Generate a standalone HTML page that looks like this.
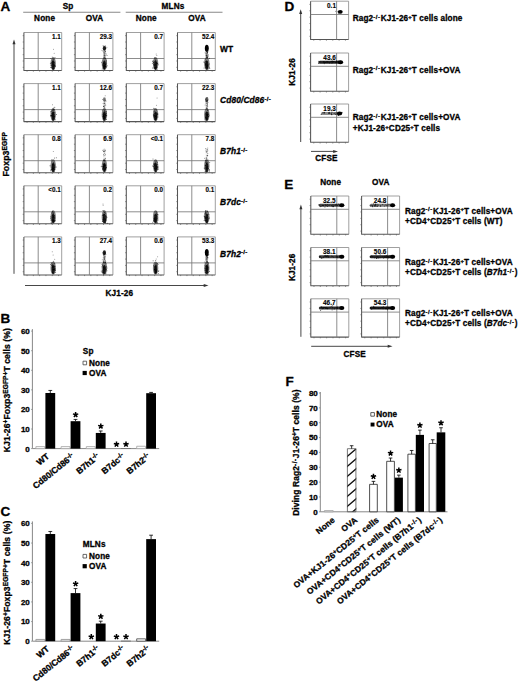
<!DOCTYPE html>
<html><head><meta charset="utf-8"><style>
html,body{margin:0;padding:0;background:#fff;width:520px;height:683px;overflow:hidden;}
svg{display:block;font-family:"Liberation Sans",sans-serif;}
</style></head><body>
<svg width="520" height="683" viewBox="0 0 520 683" font-family="Liberation Sans, sans-serif" font-weight="bold" stroke-linejoin="round">
<rect width="520" height="683" fill="#fff"/>
<line x1="23.2" y1="12.2" x2="120.4" y2="12.2" stroke="#888" stroke-width="1.1"/>
<line x1="125.7" y1="12.2" x2="222.5" y2="12.2" stroke="#888" stroke-width="1.1"/>
<path d="M23.9 35.67h-1.2M23.9 42h-1.2M23.9 48.33h-1.2M23.9 54.67h-1.2M23.9 61h-1.2M23.9 67.33h-1.2M27.05 70.5v1.2M33.35 70.5v1.2M39.65 70.5v1.2M45.95 70.5v1.2M52.25 70.5v1.2M58.55 70.5v1.2" stroke="#666" stroke-width="0.7" fill="none"/>
<path d="M23.9 32.5H61.7V70.5" stroke="#888" stroke-width="0.8" fill="none"/>
<path d="M23.9 32.5V70.5H61.7" stroke="#555" stroke-width="1.05" fill="none"/>
<line x1="38.2" y1="32.5" x2="38.2" y2="70.5" stroke="#777" stroke-width="0.85"/>
<line x1="23.9" y1="58.5" x2="61.7" y2="58.5" stroke="#777" stroke-width="0.85"/>
<ellipse cx="53.19" cy="63.6" rx="2.7" ry="6.6" fill="#000" fill-opacity="0.5"/>
<ellipse cx="53.19" cy="65.1" rx="1.5" ry="4.6" fill="#000" fill-opacity="0.8"/>
<g fill="#000" fill-opacity="0.6"><circle cx="52.84" cy="66.29" r="0.5"/><circle cx="52.88" cy="63.4" r="0.5"/><circle cx="51.89" cy="63.75" r="0.5"/><circle cx="54.75" cy="65.98" r="0.5"/><circle cx="54.65" cy="65.37" r="0.5"/><circle cx="53.75" cy="65.15" r="0.5"/><circle cx="50.86" cy="67.49" r="0.5"/><circle cx="53.9" cy="66.25" r="0.5"/><circle cx="50.83" cy="58.4" r="0.5"/><circle cx="51.95" cy="62.86" r="0.5"/><circle cx="53.62" cy="64.34" r="0.5"/><circle cx="53.92" cy="62.25" r="0.5"/><circle cx="53.63" cy="65.88" r="0.5"/><circle cx="53.97" cy="68.69" r="0.5"/><circle cx="52.33" cy="61.91" r="0.5"/><circle cx="52.71" cy="64.13" r="0.5"/><circle cx="54.08" cy="65.37" r="0.5"/><circle cx="52.57" cy="61.15" r="0.5"/><circle cx="52.47" cy="68.77" r="0.5"/><circle cx="52.06" cy="65.36" r="0.5"/><circle cx="53.79" cy="59.29" r="0.5"/><circle cx="53.26" cy="69.07" r="0.5"/><circle cx="50.37" cy="63.37" r="0.5"/><circle cx="53.05" cy="61.64" r="0.5"/><circle cx="53.89" cy="64.28" r="0.5"/><circle cx="51.14" cy="67.4" r="0.5"/><circle cx="54.13" cy="67.81" r="0.5"/><circle cx="55.21" cy="65.77" r="0.5"/><circle cx="53.36" cy="59.95" r="0.5"/><circle cx="54.06" cy="62.36" r="0.5"/><circle cx="52.56" cy="60.07" r="0.5"/><circle cx="51.84" cy="62.64" r="0.5"/><circle cx="55" cy="57.39" r="0.5"/><circle cx="51.15" cy="65.34" r="0.5"/><circle cx="55.22" cy="66.52" r="0.5"/></g>
<g fill="#000" fill-opacity="0.45"><circle cx="53.52" cy="49.19" r="0.5"/><circle cx="52.19" cy="56.9" r="0.5"/><circle cx="54.19" cy="53.21" r="0.5"/></g>
<path d="M75.1 35.67h-1.2M75.1 42h-1.2M75.1 48.33h-1.2M75.1 54.67h-1.2M75.1 61h-1.2M75.1 67.33h-1.2M78.25 70.5v1.2M84.55 70.5v1.2M90.85 70.5v1.2M97.15 70.5v1.2M103.45 70.5v1.2M109.75 70.5v1.2" stroke="#666" stroke-width="0.7" fill="none"/>
<path d="M75.1 32.5H112.9V70.5" stroke="#888" stroke-width="0.8" fill="none"/>
<path d="M75.1 32.5V70.5H112.9" stroke="#555" stroke-width="1.05" fill="none"/>
<line x1="89.4" y1="32.5" x2="89.4" y2="70.5" stroke="#777" stroke-width="0.85"/>
<line x1="75.1" y1="58.5" x2="112.9" y2="58.5" stroke="#777" stroke-width="0.85"/>
<ellipse cx="104.39" cy="63.6" rx="2.7" ry="6.6" fill="#000" fill-opacity="0.5"/>
<ellipse cx="104.39" cy="65.1" rx="1.5" ry="4.6" fill="#000" fill-opacity="0.8"/>
<g fill="#000" fill-opacity="0.6"><circle cx="104.74" cy="66.02" r="0.5"/><circle cx="106.63" cy="66.67" r="0.5"/><circle cx="105.12" cy="66.42" r="0.5"/><circle cx="102.2" cy="68.99" r="0.5"/><circle cx="105.73" cy="66.35" r="0.5"/><circle cx="101.63" cy="62.28" r="0.5"/><circle cx="105.57" cy="58.16" r="0.5"/><circle cx="104.14" cy="68.07" r="0.5"/><circle cx="105.17" cy="63.97" r="0.5"/><circle cx="104.85" cy="66.77" r="0.5"/><circle cx="104.56" cy="68.51" r="0.5"/><circle cx="103.47" cy="63.05" r="0.5"/><circle cx="105.85" cy="64.59" r="0.5"/><circle cx="103.16" cy="67.81" r="0.5"/><circle cx="106.45" cy="62.94" r="0.5"/><circle cx="102.46" cy="64.03" r="0.5"/><circle cx="104.19" cy="63.46" r="0.5"/><circle cx="106.36" cy="60.91" r="0.5"/><circle cx="106.16" cy="60.06" r="0.5"/><circle cx="103.29" cy="66.71" r="0.5"/><circle cx="105.98" cy="67.51" r="0.5"/><circle cx="104.88" cy="65" r="0.5"/><circle cx="104.61" cy="66.51" r="0.5"/><circle cx="104.15" cy="65.47" r="0.5"/><circle cx="105.2" cy="64.5" r="0.5"/><circle cx="105.46" cy="66.48" r="0.5"/><circle cx="107.21" cy="65.64" r="0.5"/><circle cx="103.8" cy="63.2" r="0.5"/><circle cx="104.38" cy="67.73" r="0.5"/><circle cx="103.92" cy="65.85" r="0.5"/><circle cx="106.97" cy="55.52" r="0.5"/><circle cx="102.82" cy="65.35" r="0.5"/><circle cx="104.95" cy="65.34" r="0.5"/><circle cx="103.79" cy="66.79" r="0.5"/><circle cx="104.79" cy="62.67" r="0.5"/></g>
<g fill="#000" fill-opacity="0.45"><circle cx="106.58" cy="54.1" r="0.5"/><circle cx="103.9" cy="52.05" r="0.5"/><circle cx="104.19" cy="52.22" r="0.5"/><circle cx="101.94" cy="50.31" r="0.5"/><circle cx="105.3" cy="47.24" r="0.5"/><circle cx="104.33" cy="56.79" r="0.5"/><circle cx="102.86" cy="50.91" r="0.5"/><circle cx="104.09" cy="55.3" r="0.5"/><circle cx="105.37" cy="45.99" r="0.5"/><circle cx="105.01" cy="45.79" r="0.5"/><circle cx="104.55" cy="57.88" r="0.5"/><circle cx="104.26" cy="53.36" r="0.5"/><circle cx="105.11" cy="53.14" r="0.5"/><circle cx="105.34" cy="51.18" r="0.5"/><circle cx="106.87" cy="47.34" r="0.5"/><circle cx="105.22" cy="51.3" r="0.5"/><circle cx="104.51" cy="55.67" r="0.5"/><circle cx="104.59" cy="55.37" r="0.5"/><circle cx="103.02" cy="45.71" r="0.5"/><circle cx="104.95" cy="48.17" r="0.5"/><circle cx="103.47" cy="45.88" r="0.5"/><circle cx="105.53" cy="55.86" r="0.5"/><circle cx="105.72" cy="48.28" r="0.5"/><circle cx="104.4" cy="47.37" r="0.5"/><circle cx="105.28" cy="51.7" r="0.5"/><circle cx="104.31" cy="49.79" r="0.5"/><circle cx="104.75" cy="54.34" r="0.5"/><circle cx="105.74" cy="47.91" r="0.5"/></g>
<ellipse cx="104.39" cy="48.3" rx="1.62" ry="2.41" fill="#000" fill-opacity="0.85"/>
<rect x="103.19" y="48.5" width="2.4" height="10" fill="#000" fill-opacity="0.26"/>
<path d="M126.3 35.67h-1.2M126.3 42h-1.2M126.3 48.33h-1.2M126.3 54.67h-1.2M126.3 61h-1.2M126.3 67.33h-1.2M129.45 70.5v1.2M135.75 70.5v1.2M142.05 70.5v1.2M148.35 70.5v1.2M154.65 70.5v1.2M160.95 70.5v1.2" stroke="#666" stroke-width="0.7" fill="none"/>
<path d="M126.3 32.5H164.1V70.5" stroke="#888" stroke-width="0.8" fill="none"/>
<path d="M126.3 32.5V70.5H164.1" stroke="#555" stroke-width="1.05" fill="none"/>
<line x1="140.6" y1="32.5" x2="140.6" y2="70.5" stroke="#777" stroke-width="0.85"/>
<line x1="126.3" y1="58.5" x2="164.1" y2="58.5" stroke="#777" stroke-width="0.85"/>
<ellipse cx="155.59" cy="63.6" rx="2.7" ry="6.6" fill="#000" fill-opacity="0.5"/>
<ellipse cx="155.59" cy="65.1" rx="1.5" ry="4.6" fill="#000" fill-opacity="0.8"/>
<g fill="#000" fill-opacity="0.6"><circle cx="157.19" cy="69.71" r="0.5"/><circle cx="157.63" cy="63.87" r="0.5"/><circle cx="154.55" cy="68.07" r="0.5"/><circle cx="155.76" cy="64.93" r="0.5"/><circle cx="157.59" cy="63.58" r="0.5"/><circle cx="152.38" cy="63.14" r="0.5"/><circle cx="153" cy="67.37" r="0.5"/><circle cx="156.04" cy="62.36" r="0.5"/><circle cx="155.58" cy="67.41" r="0.5"/><circle cx="155.71" cy="69.14" r="0.5"/><circle cx="155.51" cy="68.14" r="0.5"/><circle cx="154.65" cy="67.58" r="0.5"/><circle cx="152.97" cy="60.71" r="0.5"/><circle cx="152.85" cy="68.24" r="0.5"/><circle cx="153.87" cy="64.46" r="0.5"/><circle cx="155.33" cy="64.4" r="0.5"/><circle cx="154.77" cy="65.32" r="0.5"/><circle cx="158.1" cy="64.65" r="0.5"/><circle cx="156.34" cy="68" r="0.5"/><circle cx="155.32" cy="60.09" r="0.5"/><circle cx="154.82" cy="68.26" r="0.5"/><circle cx="153.29" cy="62.41" r="0.5"/><circle cx="157.01" cy="67.27" r="0.5"/><circle cx="155.61" cy="67.32" r="0.5"/><circle cx="155.83" cy="60.37" r="0.5"/><circle cx="153.41" cy="62.26" r="0.5"/><circle cx="156.89" cy="62.52" r="0.5"/><circle cx="154.33" cy="61.8" r="0.5"/><circle cx="153.45" cy="64.09" r="0.5"/><circle cx="153.94" cy="65.77" r="0.5"/><circle cx="154.7" cy="57.7" r="0.5"/><circle cx="156.61" cy="63.54" r="0.5"/><circle cx="152.47" cy="61.44" r="0.5"/><circle cx="156" cy="62.89" r="0.5"/><circle cx="156.69" cy="67.12" r="0.5"/></g>
<g fill="#000" fill-opacity="0.45"><circle cx="156.19" cy="53.97" r="0.5"/><circle cx="156.8" cy="55.47" r="0.5"/></g>
<path d="M177.5 35.67h-1.2M177.5 42h-1.2M177.5 48.33h-1.2M177.5 54.67h-1.2M177.5 61h-1.2M177.5 67.33h-1.2M180.65 70.5v1.2M186.95 70.5v1.2M193.25 70.5v1.2M199.55 70.5v1.2M205.85 70.5v1.2M212.15 70.5v1.2" stroke="#666" stroke-width="0.7" fill="none"/>
<path d="M177.5 32.5H215.3V70.5" stroke="#888" stroke-width="0.8" fill="none"/>
<path d="M177.5 32.5V70.5H215.3" stroke="#555" stroke-width="1.05" fill="none"/>
<line x1="191.8" y1="32.5" x2="191.8" y2="70.5" stroke="#777" stroke-width="0.85"/>
<line x1="177.5" y1="58.5" x2="215.3" y2="58.5" stroke="#777" stroke-width="0.85"/>
<ellipse cx="206.8" cy="63.6" rx="2.7" ry="6.6" fill="#000" fill-opacity="0.5"/>
<ellipse cx="206.8" cy="65.1" rx="1.5" ry="4.6" fill="#000" fill-opacity="0.8"/>
<g fill="#000" fill-opacity="0.6"><circle cx="207.43" cy="57.21" r="0.5"/><circle cx="208.05" cy="69.08" r="0.5"/><circle cx="206.38" cy="62.86" r="0.5"/><circle cx="209.51" cy="58.35" r="0.5"/><circle cx="205.5" cy="66.91" r="0.5"/><circle cx="209.44" cy="64.08" r="0.5"/><circle cx="207.58" cy="67.66" r="0.5"/><circle cx="205.53" cy="64.19" r="0.5"/><circle cx="207.2" cy="67.39" r="0.5"/><circle cx="206.75" cy="63.82" r="0.5"/><circle cx="205.37" cy="63.24" r="0.5"/><circle cx="208.04" cy="64.86" r="0.5"/><circle cx="205.6" cy="61.55" r="0.5"/><circle cx="207.67" cy="66.18" r="0.5"/><circle cx="209.15" cy="66" r="0.5"/><circle cx="206.7" cy="66.33" r="0.5"/><circle cx="204.07" cy="68.12" r="0.5"/><circle cx="207.25" cy="62.04" r="0.5"/><circle cx="204.83" cy="62.17" r="0.5"/><circle cx="207.2" cy="65.14" r="0.5"/><circle cx="206.24" cy="61.09" r="0.5"/><circle cx="209.76" cy="68.13" r="0.5"/><circle cx="205.12" cy="59.79" r="0.5"/><circle cx="209.18" cy="67.96" r="0.5"/><circle cx="209.34" cy="67.34" r="0.5"/><circle cx="205.57" cy="65.41" r="0.5"/><circle cx="203.77" cy="61.88" r="0.5"/><circle cx="206.71" cy="66.33" r="0.5"/><circle cx="205.78" cy="64.07" r="0.5"/><circle cx="207.44" cy="65.82" r="0.5"/><circle cx="207.69" cy="65.23" r="0.5"/><circle cx="206.34" cy="67.26" r="0.5"/><circle cx="206.86" cy="61.61" r="0.5"/><circle cx="205.92" cy="64.5" r="0.5"/><circle cx="206.64" cy="65.05" r="0.5"/></g>
<g fill="#000" fill-opacity="0.45"><circle cx="206.79" cy="53.29" r="0.5"/><circle cx="206.67" cy="46.84" r="0.5"/><circle cx="207.17" cy="57.24" r="0.5"/><circle cx="207.19" cy="51.65" r="0.5"/><circle cx="207.2" cy="48.15" r="0.5"/><circle cx="205.09" cy="52.77" r="0.5"/><circle cx="205.96" cy="55.83" r="0.5"/><circle cx="206.45" cy="46.34" r="0.5"/><circle cx="206.11" cy="54.84" r="0.5"/><circle cx="207.24" cy="53.3" r="0.5"/><circle cx="208.13" cy="55.68" r="0.5"/><circle cx="206.78" cy="55.19" r="0.5"/><circle cx="208.28" cy="56.87" r="0.5"/><circle cx="207.72" cy="47.63" r="0.5"/><circle cx="206.66" cy="55.78" r="0.5"/><circle cx="206.53" cy="57.31" r="0.5"/><circle cx="207.33" cy="56.59" r="0.5"/><circle cx="207.91" cy="51.53" r="0.5"/><circle cx="206.49" cy="56.43" r="0.5"/><circle cx="207.68" cy="52.53" r="0.5"/><circle cx="205.74" cy="53.34" r="0.5"/><circle cx="207.12" cy="57.58" r="0.5"/><circle cx="207.5" cy="52.61" r="0.5"/><circle cx="207.56" cy="54.93" r="0.5"/><circle cx="206.98" cy="52.75" r="0.5"/><circle cx="206.58" cy="55.59" r="0.5"/><circle cx="205.85" cy="49.67" r="0.5"/><circle cx="206.8" cy="45.91" r="0.5"/><circle cx="206.18" cy="55.06" r="0.5"/><circle cx="207.3" cy="52.25" r="0.5"/><circle cx="206.59" cy="46.12" r="0.5"/><circle cx="208.44" cy="54.82" r="0.5"/></g>
<ellipse cx="206.8" cy="48.3" rx="1.95" ry="3.58" fill="#000" fill-opacity="1"/>
<rect x="205.6" y="48.5" width="2.4" height="10" fill="#000" fill-opacity="0.3"/>
<path d="M23.9 86.77h-1.2M23.9 93.1h-1.2M23.9 99.43h-1.2M23.9 105.77h-1.2M23.9 112.1h-1.2M23.9 118.43h-1.2M27.05 121.6v1.2M33.35 121.6v1.2M39.65 121.6v1.2M45.95 121.6v1.2M52.25 121.6v1.2M58.55 121.6v1.2" stroke="#666" stroke-width="0.7" fill="none"/>
<path d="M23.9 83.6H61.7V121.6" stroke="#888" stroke-width="0.8" fill="none"/>
<path d="M23.9 83.6V121.6H61.7" stroke="#555" stroke-width="1.05" fill="none"/>
<line x1="38.2" y1="83.6" x2="38.2" y2="121.6" stroke="#777" stroke-width="0.85"/>
<line x1="23.9" y1="109.6" x2="61.7" y2="109.6" stroke="#777" stroke-width="0.85"/>
<ellipse cx="53.19" cy="114.7" rx="2.7" ry="6.6" fill="#000" fill-opacity="0.5"/>
<ellipse cx="53.19" cy="116.2" rx="1.5" ry="4.6" fill="#000" fill-opacity="0.8"/>
<g fill="#000" fill-opacity="0.6"><circle cx="54.73" cy="112.51" r="0.5"/><circle cx="52.94" cy="109.23" r="0.5"/><circle cx="54.29" cy="118.87" r="0.5"/><circle cx="50.54" cy="115.42" r="0.5"/><circle cx="54.08" cy="109.43" r="0.5"/><circle cx="50.64" cy="111.87" r="0.5"/><circle cx="52.31" cy="110.69" r="0.5"/><circle cx="53.24" cy="116.47" r="0.5"/><circle cx="54.08" cy="118.06" r="0.5"/><circle cx="55.3" cy="119.68" r="0.5"/><circle cx="51.36" cy="113.83" r="0.5"/><circle cx="51.71" cy="111.83" r="0.5"/><circle cx="53.08" cy="115.62" r="0.5"/><circle cx="53.88" cy="110.05" r="0.5"/><circle cx="51.46" cy="115.52" r="0.5"/><circle cx="52.92" cy="114.51" r="0.5"/><circle cx="53.11" cy="112.94" r="0.5"/><circle cx="54.18" cy="116.84" r="0.5"/><circle cx="53.07" cy="113.25" r="0.5"/><circle cx="51.82" cy="115.73" r="0.5"/><circle cx="51.09" cy="116.3" r="0.5"/><circle cx="53.4" cy="110.78" r="0.5"/><circle cx="52.84" cy="114.5" r="0.5"/><circle cx="53.84" cy="117.74" r="0.5"/><circle cx="53.14" cy="112.62" r="0.5"/><circle cx="52.99" cy="115.37" r="0.5"/><circle cx="54.22" cy="116.63" r="0.5"/><circle cx="52.18" cy="110.86" r="0.5"/><circle cx="52.67" cy="113.01" r="0.5"/><circle cx="51.64" cy="115.19" r="0.5"/><circle cx="52.51" cy="115.97" r="0.5"/><circle cx="53.93" cy="114.15" r="0.5"/><circle cx="56.45" cy="114.47" r="0.5"/><circle cx="54.74" cy="116.03" r="0.5"/><circle cx="54.76" cy="107.28" r="0.5"/></g>
<g fill="#000" fill-opacity="0.45"><circle cx="52.52" cy="104.71" r="0.5"/><circle cx="53.49" cy="109.36" r="0.5"/><circle cx="53.88" cy="107.86" r="0.5"/></g>
<path d="M75.1 86.77h-1.2M75.1 93.1h-1.2M75.1 99.43h-1.2M75.1 105.77h-1.2M75.1 112.1h-1.2M75.1 118.43h-1.2M78.25 121.6v1.2M84.55 121.6v1.2M90.85 121.6v1.2M97.15 121.6v1.2M103.45 121.6v1.2M109.75 121.6v1.2" stroke="#666" stroke-width="0.7" fill="none"/>
<path d="M75.1 83.6H112.9V121.6" stroke="#888" stroke-width="0.8" fill="none"/>
<path d="M75.1 83.6V121.6H112.9" stroke="#555" stroke-width="1.05" fill="none"/>
<line x1="89.4" y1="83.6" x2="89.4" y2="121.6" stroke="#777" stroke-width="0.85"/>
<line x1="75.1" y1="109.6" x2="112.9" y2="109.6" stroke="#777" stroke-width="0.85"/>
<ellipse cx="104.39" cy="114.7" rx="2.7" ry="6.6" fill="#000" fill-opacity="0.5"/>
<ellipse cx="104.39" cy="116.2" rx="1.5" ry="4.6" fill="#000" fill-opacity="0.8"/>
<g fill="#000" fill-opacity="0.6"><circle cx="105.11" cy="115.05" r="0.5"/><circle cx="105.11" cy="111.83" r="0.5"/><circle cx="106.05" cy="112.04" r="0.5"/><circle cx="104.08" cy="115.67" r="0.5"/><circle cx="106.02" cy="115.69" r="0.5"/><circle cx="103.26" cy="116.5" r="0.5"/><circle cx="105.21" cy="118.09" r="0.5"/><circle cx="106.73" cy="115.66" r="0.5"/><circle cx="104.77" cy="114.1" r="0.5"/><circle cx="106.37" cy="113.13" r="0.5"/><circle cx="105.34" cy="113.92" r="0.5"/><circle cx="103.42" cy="118.12" r="0.5"/><circle cx="106.26" cy="115.56" r="0.5"/><circle cx="103.45" cy="118.44" r="0.5"/><circle cx="104.33" cy="116.69" r="0.5"/><circle cx="106.53" cy="119.56" r="0.5"/><circle cx="104.4" cy="118.35" r="0.5"/><circle cx="103.49" cy="115.44" r="0.5"/><circle cx="106.31" cy="111.35" r="0.5"/><circle cx="102.29" cy="109.93" r="0.5"/><circle cx="106.04" cy="113.99" r="0.5"/><circle cx="104.31" cy="114.51" r="0.5"/><circle cx="104.23" cy="111.79" r="0.5"/><circle cx="104.43" cy="110.57" r="0.5"/><circle cx="104.29" cy="116.68" r="0.5"/><circle cx="105.05" cy="114.79" r="0.5"/><circle cx="103.13" cy="116.16" r="0.5"/><circle cx="103.72" cy="121.08" r="0.5"/><circle cx="105.47" cy="115.2" r="0.5"/><circle cx="103.74" cy="113.14" r="0.5"/><circle cx="103.08" cy="114.36" r="0.5"/><circle cx="104.81" cy="117.4" r="0.5"/><circle cx="103.41" cy="115.65" r="0.5"/><circle cx="103.66" cy="116.19" r="0.5"/><circle cx="104.61" cy="117.03" r="0.5"/></g>
<g fill="#000" fill-opacity="0.45"><circle cx="104.18" cy="105.25" r="0.5"/><circle cx="104.44" cy="107.07" r="0.5"/><circle cx="102.69" cy="99.62" r="0.5"/><circle cx="104.39" cy="98.96" r="0.5"/><circle cx="103.45" cy="106.42" r="0.5"/><circle cx="103.81" cy="106.46" r="0.5"/><circle cx="105.07" cy="104.98" r="0.5"/><circle cx="104.85" cy="103.13" r="0.5"/><circle cx="103.13" cy="103.46" r="0.5"/><circle cx="104.8" cy="101.22" r="0.5"/><circle cx="104.31" cy="106.97" r="0.5"/><circle cx="103.6" cy="106.48" r="0.5"/><circle cx="106.07" cy="101.1" r="0.5"/><circle cx="104.53" cy="102.92" r="0.5"/><circle cx="105.78" cy="105.02" r="0.5"/><circle cx="105.2" cy="100.49" r="0.5"/><circle cx="104.38" cy="103.56" r="0.5"/><circle cx="105.2" cy="95.73" r="0.5"/></g>
<ellipse cx="104.39" cy="99.4" rx="1.55" ry="2.14" fill="#000" fill-opacity="0.45"/>
<rect x="103.19" y="99.6" width="2.4" height="10" fill="#000" fill-opacity="0.14"/>
<path d="M126.3 86.77h-1.2M126.3 93.1h-1.2M126.3 99.43h-1.2M126.3 105.77h-1.2M126.3 112.1h-1.2M126.3 118.43h-1.2M129.45 121.6v1.2M135.75 121.6v1.2M142.05 121.6v1.2M148.35 121.6v1.2M154.65 121.6v1.2M160.95 121.6v1.2" stroke="#666" stroke-width="0.7" fill="none"/>
<path d="M126.3 83.6H164.1V121.6" stroke="#888" stroke-width="0.8" fill="none"/>
<path d="M126.3 83.6V121.6H164.1" stroke="#555" stroke-width="1.05" fill="none"/>
<line x1="140.6" y1="83.6" x2="140.6" y2="121.6" stroke="#777" stroke-width="0.85"/>
<line x1="126.3" y1="109.6" x2="164.1" y2="109.6" stroke="#777" stroke-width="0.85"/>
<ellipse cx="155.59" cy="114.7" rx="2.7" ry="6.6" fill="#000" fill-opacity="0.5"/>
<ellipse cx="155.59" cy="116.2" rx="1.5" ry="4.6" fill="#000" fill-opacity="0.8"/>
<g fill="#000" fill-opacity="0.6"><circle cx="156.64" cy="115.14" r="0.5"/><circle cx="156.22" cy="116.88" r="0.5"/><circle cx="153.5" cy="114.86" r="0.5"/><circle cx="157.68" cy="113.59" r="0.5"/><circle cx="154.16" cy="110.84" r="0.5"/><circle cx="153.89" cy="116.77" r="0.5"/><circle cx="157.96" cy="117.1" r="0.5"/><circle cx="154.87" cy="113.24" r="0.5"/><circle cx="156.33" cy="117.52" r="0.5"/><circle cx="154.17" cy="111.51" r="0.5"/><circle cx="156" cy="116.47" r="0.5"/><circle cx="153.77" cy="114.89" r="0.5"/><circle cx="154.84" cy="117.21" r="0.5"/><circle cx="155.43" cy="115.3" r="0.5"/><circle cx="155.1" cy="119.29" r="0.5"/><circle cx="157.54" cy="114.32" r="0.5"/><circle cx="156.78" cy="112.95" r="0.5"/><circle cx="155.7" cy="118.22" r="0.5"/><circle cx="157.71" cy="114.26" r="0.5"/><circle cx="155.49" cy="116.29" r="0.5"/><circle cx="153.5" cy="115.66" r="0.5"/><circle cx="154.65" cy="116.9" r="0.5"/><circle cx="154.01" cy="108.68" r="0.5"/><circle cx="155.65" cy="116.51" r="0.5"/><circle cx="154.83" cy="118.71" r="0.5"/><circle cx="155.21" cy="113.48" r="0.5"/><circle cx="156.26" cy="110.11" r="0.5"/><circle cx="154.65" cy="115.53" r="0.5"/><circle cx="156.78" cy="115.03" r="0.5"/><circle cx="156.03" cy="113.31" r="0.5"/><circle cx="154.69" cy="115.66" r="0.5"/><circle cx="155.84" cy="119.19" r="0.5"/><circle cx="153.86" cy="108.25" r="0.5"/><circle cx="156.44" cy="118.38" r="0.5"/><circle cx="155.88" cy="116.49" r="0.5"/></g>
<g fill="#000" fill-opacity="0.45"><circle cx="156.43" cy="105.26" r="0.5"/><circle cx="157.09" cy="98.03" r="0.5"/></g>
<path d="M177.5 86.77h-1.2M177.5 93.1h-1.2M177.5 99.43h-1.2M177.5 105.77h-1.2M177.5 112.1h-1.2M177.5 118.43h-1.2M180.65 121.6v1.2M186.95 121.6v1.2M193.25 121.6v1.2M199.55 121.6v1.2M205.85 121.6v1.2M212.15 121.6v1.2" stroke="#666" stroke-width="0.7" fill="none"/>
<path d="M177.5 83.6H215.3V121.6" stroke="#888" stroke-width="0.8" fill="none"/>
<path d="M177.5 83.6V121.6H215.3" stroke="#555" stroke-width="1.05" fill="none"/>
<line x1="191.8" y1="83.6" x2="191.8" y2="121.6" stroke="#777" stroke-width="0.85"/>
<line x1="177.5" y1="109.6" x2="215.3" y2="109.6" stroke="#777" stroke-width="0.85"/>
<ellipse cx="206.8" cy="114.7" rx="2.7" ry="6.6" fill="#000" fill-opacity="0.5"/>
<ellipse cx="206.8" cy="116.2" rx="1.5" ry="4.6" fill="#000" fill-opacity="0.8"/>
<g fill="#000" fill-opacity="0.6"><circle cx="207.93" cy="114.3" r="0.5"/><circle cx="206.79" cy="114.71" r="0.5"/><circle cx="206.1" cy="112.67" r="0.5"/><circle cx="205.91" cy="117.84" r="0.5"/><circle cx="206.85" cy="115.83" r="0.5"/><circle cx="206.55" cy="118.8" r="0.5"/><circle cx="207.49" cy="115.1" r="0.5"/><circle cx="207.73" cy="115.07" r="0.5"/><circle cx="205.18" cy="120.69" r="0.5"/><circle cx="207.45" cy="112.25" r="0.5"/><circle cx="208.31" cy="116.81" r="0.5"/><circle cx="207.26" cy="118.72" r="0.5"/><circle cx="207.07" cy="115.08" r="0.5"/><circle cx="204.63" cy="119" r="0.5"/><circle cx="206.84" cy="114.6" r="0.5"/><circle cx="207.29" cy="115.87" r="0.5"/><circle cx="207.74" cy="114.3" r="0.5"/><circle cx="206.74" cy="108.11" r="0.5"/><circle cx="206.2" cy="117.97" r="0.5"/><circle cx="208.67" cy="114.33" r="0.5"/><circle cx="206.34" cy="118.17" r="0.5"/><circle cx="209.14" cy="115.74" r="0.5"/><circle cx="208.51" cy="113.11" r="0.5"/><circle cx="207.09" cy="115.33" r="0.5"/><circle cx="206.96" cy="119.55" r="0.5"/><circle cx="205.99" cy="117.34" r="0.5"/><circle cx="205.32" cy="117.34" r="0.5"/><circle cx="207.6" cy="114.63" r="0.5"/><circle cx="207.54" cy="110.18" r="0.5"/><circle cx="207.86" cy="110.19" r="0.5"/><circle cx="205.82" cy="113.65" r="0.5"/><circle cx="206.23" cy="118.61" r="0.5"/><circle cx="206.91" cy="114.21" r="0.5"/><circle cx="206.8" cy="116.88" r="0.5"/><circle cx="208.53" cy="116.54" r="0.5"/></g>
<g fill="#000" fill-opacity="0.45"><circle cx="206.76" cy="105.48" r="0.5"/><circle cx="207.66" cy="106.61" r="0.5"/><circle cx="206.55" cy="98.86" r="0.5"/><circle cx="206.89" cy="108.25" r="0.5"/><circle cx="205.81" cy="98.98" r="0.5"/><circle cx="206.56" cy="101.64" r="0.5"/><circle cx="207.2" cy="100.44" r="0.5"/><circle cx="206" cy="101.83" r="0.5"/><circle cx="206.75" cy="100.61" r="0.5"/><circle cx="206.81" cy="106.98" r="0.5"/><circle cx="206.09" cy="101.71" r="0.5"/><circle cx="206.14" cy="103.45" r="0.5"/><circle cx="207.27" cy="97.49" r="0.5"/><circle cx="207.21" cy="103.48" r="0.5"/><circle cx="205.15" cy="104.91" r="0.5"/><circle cx="207.52" cy="104.54" r="0.5"/><circle cx="207.22" cy="105.59" r="0.5"/><circle cx="207.97" cy="102.59" r="0.5"/><circle cx="207.58" cy="101.76" r="0.5"/><circle cx="207.45" cy="99.94" r="0.5"/><circle cx="207.2" cy="102.89" r="0.5"/><circle cx="205.76" cy="100.04" r="0.5"/></g>
<ellipse cx="206.8" cy="99.4" rx="1.65" ry="2.5" fill="#000" fill-opacity="0.6"/>
<rect x="205.6" y="99.6" width="2.4" height="10" fill="#000" fill-opacity="0.18"/>
<path d="M23.9 137.87h-1.2M23.9 144.2h-1.2M23.9 150.53h-1.2M23.9 156.87h-1.2M23.9 163.2h-1.2M23.9 169.53h-1.2M27.05 172.7v1.2M33.35 172.7v1.2M39.65 172.7v1.2M45.95 172.7v1.2M52.25 172.7v1.2M58.55 172.7v1.2" stroke="#666" stroke-width="0.7" fill="none"/>
<path d="M23.9 134.7H61.7V172.7" stroke="#888" stroke-width="0.8" fill="none"/>
<path d="M23.9 134.7V172.7H61.7" stroke="#555" stroke-width="1.05" fill="none"/>
<line x1="38.2" y1="134.7" x2="38.2" y2="172.7" stroke="#777" stroke-width="0.85"/>
<line x1="23.9" y1="160.7" x2="61.7" y2="160.7" stroke="#777" stroke-width="0.85"/>
<ellipse cx="53.19" cy="165.8" rx="2.7" ry="6.6" fill="#000" fill-opacity="0.5"/>
<ellipse cx="53.19" cy="167.3" rx="1.5" ry="4.6" fill="#000" fill-opacity="0.8"/>
<g fill="#000" fill-opacity="0.6"><circle cx="53.47" cy="169.99" r="0.5"/><circle cx="53.79" cy="168.53" r="0.5"/><circle cx="53.14" cy="171.43" r="0.5"/><circle cx="52.65" cy="164.78" r="0.5"/><circle cx="54.44" cy="166.92" r="0.5"/><circle cx="52.81" cy="164.68" r="0.5"/><circle cx="52.84" cy="168.88" r="0.5"/><circle cx="53.69" cy="162.47" r="0.5"/><circle cx="53.79" cy="167.33" r="0.5"/><circle cx="51.79" cy="169.4" r="0.5"/><circle cx="52.8" cy="165.53" r="0.5"/><circle cx="54.31" cy="171.32" r="0.5"/><circle cx="52.23" cy="168.23" r="0.5"/><circle cx="52.5" cy="170.88" r="0.5"/><circle cx="52.29" cy="169.54" r="0.5"/><circle cx="56.3" cy="157.81" r="0.5"/><circle cx="52.59" cy="168.45" r="0.5"/><circle cx="53.06" cy="164.36" r="0.5"/><circle cx="56.21" cy="166.98" r="0.5"/><circle cx="50.89" cy="169.69" r="0.5"/><circle cx="50.78" cy="170.73" r="0.5"/><circle cx="52.39" cy="167.21" r="0.5"/><circle cx="54.96" cy="167.11" r="0.5"/><circle cx="51.25" cy="160.76" r="0.5"/><circle cx="54.85" cy="169.29" r="0.5"/><circle cx="52.05" cy="169.71" r="0.5"/><circle cx="53.89" cy="168.97" r="0.5"/><circle cx="50.03" cy="165.64" r="0.5"/><circle cx="54.46" cy="169.27" r="0.5"/><circle cx="54.43" cy="158.1" r="0.5"/><circle cx="53.43" cy="168.42" r="0.5"/><circle cx="52.73" cy="166.83" r="0.5"/><circle cx="54.44" cy="165.15" r="0.5"/><circle cx="54.8" cy="163.94" r="0.5"/><circle cx="53.57" cy="164.85" r="0.5"/></g>
<g fill="#000" fill-opacity="0.45"><circle cx="53.34" cy="151.59" r="0.5"/><circle cx="51.76" cy="159.62" r="0.5"/></g>
<path d="M75.1 137.87h-1.2M75.1 144.2h-1.2M75.1 150.53h-1.2M75.1 156.87h-1.2M75.1 163.2h-1.2M75.1 169.53h-1.2M78.25 172.7v1.2M84.55 172.7v1.2M90.85 172.7v1.2M97.15 172.7v1.2M103.45 172.7v1.2M109.75 172.7v1.2" stroke="#666" stroke-width="0.7" fill="none"/>
<path d="M75.1 134.7H112.9V172.7" stroke="#888" stroke-width="0.8" fill="none"/>
<path d="M75.1 134.7V172.7H112.9" stroke="#555" stroke-width="1.05" fill="none"/>
<line x1="89.4" y1="134.7" x2="89.4" y2="172.7" stroke="#777" stroke-width="0.85"/>
<line x1="75.1" y1="160.7" x2="112.9" y2="160.7" stroke="#777" stroke-width="0.85"/>
<ellipse cx="104.39" cy="165.8" rx="2.7" ry="6.6" fill="#000" fill-opacity="0.5"/>
<ellipse cx="104.39" cy="167.3" rx="1.5" ry="4.6" fill="#000" fill-opacity="0.8"/>
<g fill="#000" fill-opacity="0.6"><circle cx="104.82" cy="164.74" r="0.5"/><circle cx="104.68" cy="170.17" r="0.5"/><circle cx="103.03" cy="166.31" r="0.5"/><circle cx="105.15" cy="168.54" r="0.5"/><circle cx="103.93" cy="159.33" r="0.5"/><circle cx="106.14" cy="167.85" r="0.5"/><circle cx="104.41" cy="165.73" r="0.5"/><circle cx="104.76" cy="165.21" r="0.5"/><circle cx="102.96" cy="164.11" r="0.5"/><circle cx="103.56" cy="164.56" r="0.5"/><circle cx="102.77" cy="168.93" r="0.5"/><circle cx="102.56" cy="169.01" r="0.5"/><circle cx="102.97" cy="167.93" r="0.5"/><circle cx="106.32" cy="167.41" r="0.5"/><circle cx="103.37" cy="166.87" r="0.5"/><circle cx="104.6" cy="160.63" r="0.5"/><circle cx="103.54" cy="167.27" r="0.5"/><circle cx="103.74" cy="166.98" r="0.5"/><circle cx="105.42" cy="169.38" r="0.5"/><circle cx="105.66" cy="168.76" r="0.5"/><circle cx="103.99" cy="166.64" r="0.5"/><circle cx="104.02" cy="165.6" r="0.5"/><circle cx="104.14" cy="160.66" r="0.5"/><circle cx="103.93" cy="166.62" r="0.5"/><circle cx="103.03" cy="166.62" r="0.5"/><circle cx="105.12" cy="166.12" r="0.5"/><circle cx="104.11" cy="160.31" r="0.5"/><circle cx="105.12" cy="165.64" r="0.5"/><circle cx="105.17" cy="158.85" r="0.5"/><circle cx="105.59" cy="168" r="0.5"/><circle cx="104.43" cy="164.64" r="0.5"/><circle cx="105.29" cy="165" r="0.5"/><circle cx="104.71" cy="164.91" r="0.5"/><circle cx="101.25" cy="166.59" r="0.5"/><circle cx="104.68" cy="169.34" r="0.5"/></g>
<g fill="#000" fill-opacity="0.45"><circle cx="103.61" cy="154.55" r="0.5"/><circle cx="104.95" cy="155.35" r="0.5"/><circle cx="105.23" cy="158.36" r="0.5"/><circle cx="103.84" cy="151.49" r="0.5"/><circle cx="105.19" cy="150.6" r="0.5"/><circle cx="102.76" cy="150.21" r="0.5"/><circle cx="103.78" cy="151.42" r="0.5"/><circle cx="104.6" cy="151.33" r="0.5"/><circle cx="105.57" cy="154.35" r="0.5"/><circle cx="103.42" cy="160.59" r="0.5"/><circle cx="103.87" cy="155.7" r="0.5"/><circle cx="104.38" cy="153.29" r="0.5"/></g>
<ellipse cx="104.39" cy="150.5" rx="1.5" ry="1.96" fill="#000" fill-opacity="0.2"/>
<rect x="103.19" y="150.7" width="2.4" height="10" fill="#000" fill-opacity="0.06"/>
<path d="M126.3 137.87h-1.2M126.3 144.2h-1.2M126.3 150.53h-1.2M126.3 156.87h-1.2M126.3 163.2h-1.2M126.3 169.53h-1.2M129.45 172.7v1.2M135.75 172.7v1.2M142.05 172.7v1.2M148.35 172.7v1.2M154.65 172.7v1.2M160.95 172.7v1.2" stroke="#666" stroke-width="0.7" fill="none"/>
<path d="M126.3 134.7H164.1V172.7" stroke="#888" stroke-width="0.8" fill="none"/>
<path d="M126.3 134.7V172.7H164.1" stroke="#555" stroke-width="1.05" fill="none"/>
<line x1="140.6" y1="134.7" x2="140.6" y2="172.7" stroke="#777" stroke-width="0.85"/>
<line x1="126.3" y1="160.7" x2="164.1" y2="160.7" stroke="#777" stroke-width="0.85"/>
<ellipse cx="155.59" cy="165.8" rx="2.7" ry="6.6" fill="#000" fill-opacity="0.5"/>
<ellipse cx="155.59" cy="167.3" rx="1.5" ry="4.6" fill="#000" fill-opacity="0.8"/>
<g fill="#000" fill-opacity="0.6"><circle cx="156.05" cy="164.28" r="0.5"/><circle cx="153.01" cy="158.97" r="0.5"/><circle cx="153.82" cy="164.05" r="0.5"/><circle cx="155.56" cy="166.89" r="0.5"/><circle cx="156.37" cy="167.12" r="0.5"/><circle cx="154.48" cy="164.22" r="0.5"/><circle cx="152.63" cy="166.11" r="0.5"/><circle cx="156.27" cy="168.55" r="0.5"/><circle cx="155.43" cy="166.09" r="0.5"/><circle cx="156.91" cy="166.75" r="0.5"/><circle cx="156.63" cy="168.74" r="0.5"/><circle cx="155.89" cy="171.27" r="0.5"/><circle cx="154.79" cy="165.44" r="0.5"/><circle cx="154.46" cy="163.91" r="0.5"/><circle cx="155.63" cy="168.69" r="0.5"/><circle cx="157.24" cy="169.53" r="0.5"/><circle cx="157.28" cy="162.28" r="0.5"/><circle cx="154.7" cy="168.28" r="0.5"/><circle cx="157.6" cy="167.06" r="0.5"/><circle cx="154.39" cy="165.46" r="0.5"/><circle cx="154.67" cy="163.7" r="0.5"/><circle cx="157.7" cy="164.51" r="0.5"/><circle cx="157.25" cy="167.88" r="0.5"/><circle cx="154.74" cy="168.14" r="0.5"/><circle cx="157.87" cy="168.88" r="0.5"/><circle cx="157.36" cy="167.04" r="0.5"/><circle cx="156.32" cy="166" r="0.5"/><circle cx="156.19" cy="171.25" r="0.5"/><circle cx="153.59" cy="166.48" r="0.5"/><circle cx="155.93" cy="164.7" r="0.5"/><circle cx="155.16" cy="169.45" r="0.5"/><circle cx="158.4" cy="168.9" r="0.5"/><circle cx="156.05" cy="161.27" r="0.5"/><circle cx="158.29" cy="166.97" r="0.5"/><circle cx="155.55" cy="162.79" r="0.5"/></g>
<path d="M177.5 137.87h-1.2M177.5 144.2h-1.2M177.5 150.53h-1.2M177.5 156.87h-1.2M177.5 163.2h-1.2M177.5 169.53h-1.2M180.65 172.7v1.2M186.95 172.7v1.2M193.25 172.7v1.2M199.55 172.7v1.2M205.85 172.7v1.2M212.15 172.7v1.2" stroke="#666" stroke-width="0.7" fill="none"/>
<path d="M177.5 134.7H215.3V172.7" stroke="#888" stroke-width="0.8" fill="none"/>
<path d="M177.5 134.7V172.7H215.3" stroke="#555" stroke-width="1.05" fill="none"/>
<line x1="191.8" y1="134.7" x2="191.8" y2="172.7" stroke="#777" stroke-width="0.85"/>
<line x1="177.5" y1="160.7" x2="215.3" y2="160.7" stroke="#777" stroke-width="0.85"/>
<ellipse cx="206.8" cy="165.8" rx="2.7" ry="6.6" fill="#000" fill-opacity="0.5"/>
<ellipse cx="206.8" cy="167.3" rx="1.5" ry="4.6" fill="#000" fill-opacity="0.8"/>
<g fill="#000" fill-opacity="0.6"><circle cx="206.72" cy="162.86" r="0.5"/><circle cx="206.89" cy="168.33" r="0.5"/><circle cx="206.84" cy="167.68" r="0.5"/><circle cx="205.6" cy="171.7" r="0.5"/><circle cx="205.88" cy="160.34" r="0.5"/><circle cx="206.53" cy="164.03" r="0.5"/><circle cx="205.38" cy="165.46" r="0.5"/><circle cx="207.2" cy="162.56" r="0.5"/><circle cx="206.6" cy="171.69" r="0.5"/><circle cx="207.75" cy="166.17" r="0.5"/><circle cx="206.97" cy="166.28" r="0.5"/><circle cx="206.73" cy="169.26" r="0.5"/><circle cx="206.67" cy="158.28" r="0.5"/><circle cx="206.76" cy="163.59" r="0.5"/><circle cx="207.71" cy="164.56" r="0.5"/><circle cx="205.33" cy="162.76" r="0.5"/><circle cx="204.82" cy="158.32" r="0.5"/><circle cx="204.17" cy="167.98" r="0.5"/><circle cx="205.9" cy="160.16" r="0.5"/><circle cx="204.72" cy="168.86" r="0.5"/><circle cx="205.71" cy="165.42" r="0.5"/><circle cx="207.26" cy="171.45" r="0.5"/><circle cx="209.51" cy="170.31" r="0.5"/><circle cx="207" cy="167.34" r="0.5"/><circle cx="209.32" cy="171.7" r="0.5"/><circle cx="206.36" cy="168.3" r="0.5"/><circle cx="207.2" cy="166.88" r="0.5"/><circle cx="206.09" cy="162.06" r="0.5"/><circle cx="206.05" cy="161.3" r="0.5"/><circle cx="208.51" cy="168.58" r="0.5"/><circle cx="205.11" cy="171.59" r="0.5"/><circle cx="208.04" cy="160.02" r="0.5"/><circle cx="209.37" cy="169.53" r="0.5"/><circle cx="209.68" cy="162.39" r="0.5"/><circle cx="207.54" cy="168.18" r="0.5"/></g>
<g fill="#000" fill-opacity="0.45"><circle cx="206.98" cy="155.47" r="0.5"/><circle cx="207.74" cy="147.98" r="0.5"/><circle cx="205.68" cy="148.43" r="0.5"/><circle cx="206.29" cy="151.98" r="0.5"/><circle cx="207.13" cy="155.9" r="0.5"/><circle cx="206.82" cy="151.66" r="0.5"/><circle cx="206.4" cy="158.99" r="0.5"/><circle cx="207.48" cy="155.15" r="0.5"/><circle cx="206.26" cy="157.62" r="0.5"/><circle cx="207.83" cy="153.51" r="0.5"/><circle cx="207.54" cy="149.68" r="0.5"/><circle cx="207.71" cy="155.6" r="0.5"/></g>
<ellipse cx="206.8" cy="150.5" rx="1.5" ry="1.96" fill="#000" fill-opacity="0.2"/>
<rect x="205.6" y="150.7" width="2.4" height="10" fill="#000" fill-opacity="0.06"/>
<path d="M23.9 188.97h-1.2M23.9 195.3h-1.2M23.9 201.63h-1.2M23.9 207.97h-1.2M23.9 214.3h-1.2M23.9 220.63h-1.2M27.05 223.8v1.2M33.35 223.8v1.2M39.65 223.8v1.2M45.95 223.8v1.2M52.25 223.8v1.2M58.55 223.8v1.2" stroke="#666" stroke-width="0.7" fill="none"/>
<path d="M23.9 185.8H61.7V223.8" stroke="#888" stroke-width="0.8" fill="none"/>
<path d="M23.9 185.8V223.8H61.7" stroke="#555" stroke-width="1.05" fill="none"/>
<line x1="38.2" y1="185.8" x2="38.2" y2="223.8" stroke="#777" stroke-width="0.85"/>
<line x1="23.9" y1="211.8" x2="61.7" y2="211.8" stroke="#777" stroke-width="0.85"/>
<ellipse cx="53.19" cy="216.9" rx="2.7" ry="6.6" fill="#000" fill-opacity="0.5"/>
<ellipse cx="53.19" cy="218.4" rx="1.5" ry="4.6" fill="#000" fill-opacity="0.8"/>
<g fill="#000" fill-opacity="0.6"><circle cx="50.97" cy="220.14" r="0.5"/><circle cx="51.95" cy="222.29" r="0.5"/><circle cx="52.24" cy="217.22" r="0.5"/><circle cx="53.59" cy="216.64" r="0.5"/><circle cx="53.56" cy="215.86" r="0.5"/><circle cx="54.14" cy="217.82" r="0.5"/><circle cx="54.82" cy="217.91" r="0.5"/><circle cx="50.7" cy="218.13" r="0.5"/><circle cx="53.85" cy="221.55" r="0.5"/><circle cx="51.68" cy="223.21" r="0.5"/><circle cx="52.99" cy="220.18" r="0.5"/><circle cx="52.68" cy="213.89" r="0.5"/><circle cx="54.73" cy="220.97" r="0.5"/><circle cx="55.35" cy="220.8" r="0.5"/><circle cx="52.39" cy="211.98" r="0.5"/><circle cx="52.28" cy="215.44" r="0.5"/><circle cx="52.05" cy="219.84" r="0.5"/><circle cx="53.65" cy="216.86" r="0.5"/><circle cx="53.44" cy="217.29" r="0.5"/><circle cx="53.49" cy="220.43" r="0.5"/><circle cx="54.54" cy="215.4" r="0.5"/><circle cx="51.09" cy="222.8" r="0.5"/><circle cx="53.36" cy="221.67" r="0.5"/><circle cx="50.89" cy="216.65" r="0.5"/><circle cx="53.23" cy="212.75" r="0.5"/><circle cx="52.47" cy="220.34" r="0.5"/><circle cx="51.99" cy="212.9" r="0.5"/><circle cx="53.92" cy="221.09" r="0.5"/><circle cx="53.47" cy="213.24" r="0.5"/><circle cx="54.29" cy="220.57" r="0.5"/><circle cx="53.97" cy="216.1" r="0.5"/><circle cx="53.62" cy="220.57" r="0.5"/><circle cx="52.41" cy="211.35" r="0.5"/><circle cx="53.66" cy="219.48" r="0.5"/><circle cx="53.21" cy="220.91" r="0.5"/></g>
<path d="M75.1 188.97h-1.2M75.1 195.3h-1.2M75.1 201.63h-1.2M75.1 207.97h-1.2M75.1 214.3h-1.2M75.1 220.63h-1.2M78.25 223.8v1.2M84.55 223.8v1.2M90.85 223.8v1.2M97.15 223.8v1.2M103.45 223.8v1.2M109.75 223.8v1.2" stroke="#666" stroke-width="0.7" fill="none"/>
<path d="M75.1 185.8H112.9V223.8" stroke="#888" stroke-width="0.8" fill="none"/>
<path d="M75.1 185.8V223.8H112.9" stroke="#555" stroke-width="1.05" fill="none"/>
<line x1="89.4" y1="185.8" x2="89.4" y2="223.8" stroke="#777" stroke-width="0.85"/>
<line x1="75.1" y1="211.8" x2="112.9" y2="211.8" stroke="#777" stroke-width="0.85"/>
<ellipse cx="104.39" cy="216.9" rx="2.7" ry="6.6" fill="#000" fill-opacity="0.5"/>
<ellipse cx="104.39" cy="218.4" rx="1.5" ry="4.6" fill="#000" fill-opacity="0.8"/>
<g fill="#000" fill-opacity="0.6"><circle cx="103.57" cy="217.51" r="0.5"/><circle cx="103.97" cy="219.8" r="0.5"/><circle cx="106.63" cy="216.92" r="0.5"/><circle cx="107.27" cy="223.15" r="0.5"/><circle cx="105.5" cy="219.85" r="0.5"/><circle cx="106.87" cy="217.17" r="0.5"/><circle cx="104.24" cy="214.08" r="0.5"/><circle cx="105.06" cy="222.51" r="0.5"/><circle cx="105.14" cy="219.28" r="0.5"/><circle cx="104.11" cy="218.39" r="0.5"/><circle cx="102.4" cy="221.47" r="0.5"/><circle cx="103.82" cy="213.93" r="0.5"/><circle cx="103.34" cy="214.91" r="0.5"/><circle cx="105.59" cy="221.5" r="0.5"/><circle cx="102.49" cy="221.04" r="0.5"/><circle cx="105.64" cy="215.77" r="0.5"/><circle cx="102.31" cy="215.19" r="0.5"/><circle cx="103.51" cy="219" r="0.5"/><circle cx="103.89" cy="210.7" r="0.5"/><circle cx="104.72" cy="212.43" r="0.5"/><circle cx="105.66" cy="213.58" r="0.5"/><circle cx="103.42" cy="214.81" r="0.5"/><circle cx="103.64" cy="222.34" r="0.5"/><circle cx="105.59" cy="219.91" r="0.5"/><circle cx="104.84" cy="212.38" r="0.5"/><circle cx="103.67" cy="215.87" r="0.5"/><circle cx="103.03" cy="219.58" r="0.5"/><circle cx="103.36" cy="215.32" r="0.5"/><circle cx="102.93" cy="210.6" r="0.5"/><circle cx="105.23" cy="222.46" r="0.5"/><circle cx="104.64" cy="214.38" r="0.5"/><circle cx="106.1" cy="218.84" r="0.5"/><circle cx="105.69" cy="222.97" r="0.5"/><circle cx="105.97" cy="216.26" r="0.5"/><circle cx="105.87" cy="220.51" r="0.5"/></g>
<g fill="#000" fill-opacity="0.45"><circle cx="103.01" cy="203.98" r="0.5"/><circle cx="103.11" cy="205.31" r="0.5"/></g>
<path d="M126.3 188.97h-1.2M126.3 195.3h-1.2M126.3 201.63h-1.2M126.3 207.97h-1.2M126.3 214.3h-1.2M126.3 220.63h-1.2M129.45 223.8v1.2M135.75 223.8v1.2M142.05 223.8v1.2M148.35 223.8v1.2M154.65 223.8v1.2M160.95 223.8v1.2" stroke="#666" stroke-width="0.7" fill="none"/>
<path d="M126.3 185.8H164.1V223.8" stroke="#888" stroke-width="0.8" fill="none"/>
<path d="M126.3 185.8V223.8H164.1" stroke="#555" stroke-width="1.05" fill="none"/>
<line x1="140.6" y1="185.8" x2="140.6" y2="223.8" stroke="#777" stroke-width="0.85"/>
<line x1="126.3" y1="211.8" x2="164.1" y2="211.8" stroke="#777" stroke-width="0.85"/>
<ellipse cx="155.59" cy="216.9" rx="2.7" ry="6.6" fill="#000" fill-opacity="0.5"/>
<ellipse cx="155.59" cy="218.4" rx="1.5" ry="4.6" fill="#000" fill-opacity="0.8"/>
<g fill="#000" fill-opacity="0.6"><circle cx="156.4" cy="214.06" r="0.5"/><circle cx="152.72" cy="222.34" r="0.5"/><circle cx="156.12" cy="222.95" r="0.5"/><circle cx="153.74" cy="221.51" r="0.5"/><circle cx="155.3" cy="218.74" r="0.5"/><circle cx="155.38" cy="221.29" r="0.5"/><circle cx="157.05" cy="218.1" r="0.5"/><circle cx="153.69" cy="220.39" r="0.5"/><circle cx="154.94" cy="220" r="0.5"/><circle cx="157.19" cy="216.22" r="0.5"/><circle cx="154.84" cy="219.32" r="0.5"/><circle cx="157.26" cy="222.2" r="0.5"/><circle cx="156.32" cy="213.18" r="0.5"/><circle cx="153.83" cy="218.67" r="0.5"/><circle cx="154.39" cy="221.78" r="0.5"/><circle cx="156.67" cy="211.95" r="0.5"/><circle cx="154.45" cy="218.38" r="0.5"/><circle cx="154.9" cy="217.26" r="0.5"/><circle cx="156.25" cy="214.97" r="0.5"/><circle cx="156.25" cy="215.57" r="0.5"/><circle cx="154.83" cy="219.68" r="0.5"/><circle cx="154.79" cy="218.81" r="0.5"/><circle cx="157.83" cy="217.89" r="0.5"/><circle cx="155.39" cy="220.37" r="0.5"/><circle cx="155.08" cy="221.59" r="0.5"/><circle cx="153.8" cy="219.96" r="0.5"/><circle cx="154.88" cy="215" r="0.5"/><circle cx="158.07" cy="214.82" r="0.5"/><circle cx="158.05" cy="220.1" r="0.5"/><circle cx="157.63" cy="214.38" r="0.5"/><circle cx="157.27" cy="222.9" r="0.5"/><circle cx="155.43" cy="217.35" r="0.5"/><circle cx="155" cy="215.6" r="0.5"/><circle cx="156.22" cy="218.96" r="0.5"/><circle cx="155.14" cy="219.46" r="0.5"/></g>
<path d="M177.5 188.97h-1.2M177.5 195.3h-1.2M177.5 201.63h-1.2M177.5 207.97h-1.2M177.5 214.3h-1.2M177.5 220.63h-1.2M180.65 223.8v1.2M186.95 223.8v1.2M193.25 223.8v1.2M199.55 223.8v1.2M205.85 223.8v1.2M212.15 223.8v1.2" stroke="#666" stroke-width="0.7" fill="none"/>
<path d="M177.5 185.8H215.3V223.8" stroke="#888" stroke-width="0.8" fill="none"/>
<path d="M177.5 185.8V223.8H215.3" stroke="#555" stroke-width="1.05" fill="none"/>
<line x1="191.8" y1="185.8" x2="191.8" y2="223.8" stroke="#777" stroke-width="0.85"/>
<line x1="177.5" y1="211.8" x2="215.3" y2="211.8" stroke="#777" stroke-width="0.85"/>
<ellipse cx="206.8" cy="216.9" rx="2.7" ry="6.6" fill="#000" fill-opacity="0.5"/>
<ellipse cx="206.8" cy="218.4" rx="1.5" ry="4.6" fill="#000" fill-opacity="0.8"/>
<g fill="#000" fill-opacity="0.6"><circle cx="208.84" cy="214.29" r="0.5"/><circle cx="204.9" cy="213.96" r="0.5"/><circle cx="205.34" cy="211.34" r="0.5"/><circle cx="207.43" cy="211.3" r="0.5"/><circle cx="207.49" cy="222.89" r="0.5"/><circle cx="204.53" cy="216.69" r="0.5"/><circle cx="204.11" cy="220.53" r="0.5"/><circle cx="205.76" cy="216.87" r="0.5"/><circle cx="206.87" cy="219.71" r="0.5"/><circle cx="206.31" cy="217.85" r="0.5"/><circle cx="206.03" cy="218.2" r="0.5"/><circle cx="205.15" cy="218.02" r="0.5"/><circle cx="204.09" cy="216.08" r="0.5"/><circle cx="209.48" cy="218.08" r="0.5"/><circle cx="205.03" cy="218.7" r="0.5"/><circle cx="205.43" cy="212.02" r="0.5"/><circle cx="205.76" cy="220.38" r="0.5"/><circle cx="207.33" cy="217.46" r="0.5"/><circle cx="205.5" cy="214.02" r="0.5"/><circle cx="208.68" cy="218.66" r="0.5"/><circle cx="205.46" cy="210.41" r="0.5"/><circle cx="205.19" cy="217.53" r="0.5"/><circle cx="207.09" cy="217.25" r="0.5"/><circle cx="206.41" cy="212.99" r="0.5"/><circle cx="205.74" cy="220.76" r="0.5"/><circle cx="204.42" cy="216.84" r="0.5"/><circle cx="207.16" cy="221.43" r="0.5"/><circle cx="205.22" cy="219.88" r="0.5"/><circle cx="207.34" cy="215.22" r="0.5"/><circle cx="207.46" cy="214.66" r="0.5"/><circle cx="205.68" cy="217.73" r="0.5"/><circle cx="205.39" cy="212.68" r="0.5"/><circle cx="206.2" cy="220.47" r="0.5"/><circle cx="206.23" cy="222.23" r="0.5"/><circle cx="205.17" cy="213.21" r="0.5"/></g>
<path d="M23.9 240.07h-1.2M23.9 246.4h-1.2M23.9 252.73h-1.2M23.9 259.07h-1.2M23.9 265.4h-1.2M23.9 271.73h-1.2M27.05 274.9v1.2M33.35 274.9v1.2M39.65 274.9v1.2M45.95 274.9v1.2M52.25 274.9v1.2M58.55 274.9v1.2" stroke="#666" stroke-width="0.7" fill="none"/>
<path d="M23.9 236.9H61.7V274.9" stroke="#888" stroke-width="0.8" fill="none"/>
<path d="M23.9 236.9V274.9H61.7" stroke="#555" stroke-width="1.05" fill="none"/>
<line x1="38.2" y1="236.9" x2="38.2" y2="274.9" stroke="#777" stroke-width="0.85"/>
<line x1="23.9" y1="262.9" x2="61.7" y2="262.9" stroke="#777" stroke-width="0.85"/>
<ellipse cx="53.19" cy="268" rx="2.7" ry="6.6" fill="#000" fill-opacity="0.5"/>
<ellipse cx="53.19" cy="269.5" rx="1.5" ry="4.6" fill="#000" fill-opacity="0.8"/>
<g fill="#000" fill-opacity="0.6"><circle cx="55.37" cy="270.3" r="0.5"/><circle cx="54.52" cy="266.01" r="0.5"/><circle cx="54.32" cy="269.81" r="0.5"/><circle cx="54.1" cy="268.99" r="0.5"/><circle cx="54.88" cy="266.63" r="0.5"/><circle cx="51.85" cy="263.73" r="0.5"/><circle cx="54.82" cy="266.32" r="0.5"/><circle cx="51.73" cy="265.61" r="0.5"/><circle cx="52.57" cy="264.45" r="0.5"/><circle cx="52.79" cy="266.7" r="0.5"/><circle cx="52.42" cy="265.54" r="0.5"/><circle cx="53.25" cy="267.29" r="0.5"/><circle cx="53.36" cy="269.77" r="0.5"/><circle cx="53.67" cy="261.24" r="0.5"/><circle cx="52.45" cy="266.11" r="0.5"/><circle cx="54.28" cy="263.38" r="0.5"/><circle cx="52.19" cy="267.87" r="0.5"/><circle cx="52.72" cy="272.37" r="0.5"/><circle cx="52.58" cy="272.28" r="0.5"/><circle cx="51.14" cy="262.56" r="0.5"/><circle cx="54.9" cy="270.42" r="0.5"/><circle cx="53.88" cy="269.33" r="0.5"/><circle cx="53.87" cy="264.64" r="0.5"/><circle cx="54.52" cy="267.04" r="0.5"/><circle cx="54.57" cy="269.21" r="0.5"/><circle cx="50.43" cy="264.4" r="0.5"/><circle cx="54.77" cy="268.42" r="0.5"/><circle cx="52.64" cy="269.75" r="0.5"/><circle cx="52.6" cy="266.99" r="0.5"/><circle cx="53.34" cy="269.4" r="0.5"/><circle cx="55.32" cy="269.06" r="0.5"/><circle cx="55.6" cy="272.62" r="0.5"/><circle cx="53.38" cy="269.38" r="0.5"/><circle cx="53" cy="266.34" r="0.5"/><circle cx="53.1" cy="266.66" r="0.5"/></g>
<g fill="#000" fill-opacity="0.45"><circle cx="54.67" cy="259.3" r="0.5"/><circle cx="53.15" cy="255.03" r="0.5"/><circle cx="52.22" cy="251.79" r="0.5"/></g>
<path d="M75.1 240.07h-1.2M75.1 246.4h-1.2M75.1 252.73h-1.2M75.1 259.07h-1.2M75.1 265.4h-1.2M75.1 271.73h-1.2M78.25 274.9v1.2M84.55 274.9v1.2M90.85 274.9v1.2M97.15 274.9v1.2M103.45 274.9v1.2M109.75 274.9v1.2" stroke="#666" stroke-width="0.7" fill="none"/>
<path d="M75.1 236.9H112.9V274.9" stroke="#888" stroke-width="0.8" fill="none"/>
<path d="M75.1 236.9V274.9H112.9" stroke="#555" stroke-width="1.05" fill="none"/>
<line x1="89.4" y1="236.9" x2="89.4" y2="274.9" stroke="#777" stroke-width="0.85"/>
<line x1="75.1" y1="262.9" x2="112.9" y2="262.9" stroke="#777" stroke-width="0.85"/>
<ellipse cx="104.39" cy="268" rx="2.7" ry="6.6" fill="#000" fill-opacity="0.5"/>
<ellipse cx="104.39" cy="269.5" rx="1.5" ry="4.6" fill="#000" fill-opacity="0.8"/>
<g fill="#000" fill-opacity="0.6"><circle cx="101.24" cy="270.89" r="0.5"/><circle cx="104.35" cy="268.38" r="0.5"/><circle cx="106.42" cy="269.37" r="0.5"/><circle cx="104.63" cy="267.6" r="0.5"/><circle cx="103.55" cy="274.15" r="0.5"/><circle cx="103.91" cy="269.01" r="0.5"/><circle cx="103.16" cy="272.29" r="0.5"/><circle cx="102.44" cy="270.88" r="0.5"/><circle cx="105.93" cy="273.84" r="0.5"/><circle cx="103.08" cy="272.71" r="0.5"/><circle cx="103.4" cy="266.25" r="0.5"/><circle cx="102.54" cy="272.94" r="0.5"/><circle cx="106.7" cy="266.82" r="0.5"/><circle cx="103.33" cy="267.71" r="0.5"/><circle cx="103.64" cy="262.62" r="0.5"/><circle cx="103.45" cy="273.06" r="0.5"/><circle cx="107.01" cy="267.97" r="0.5"/><circle cx="103.43" cy="267.12" r="0.5"/><circle cx="101.76" cy="272.08" r="0.5"/><circle cx="102.87" cy="272.62" r="0.5"/><circle cx="102" cy="264.45" r="0.5"/><circle cx="104.8" cy="266.23" r="0.5"/><circle cx="105.49" cy="268.93" r="0.5"/><circle cx="102.75" cy="271.08" r="0.5"/><circle cx="105.57" cy="262.2" r="0.5"/><circle cx="106.95" cy="270.64" r="0.5"/><circle cx="105.46" cy="262.39" r="0.5"/><circle cx="103.39" cy="267.68" r="0.5"/><circle cx="105.9" cy="263.79" r="0.5"/><circle cx="103.16" cy="261.8" r="0.5"/><circle cx="104.06" cy="270.11" r="0.5"/><circle cx="102.03" cy="266.83" r="0.5"/><circle cx="105.32" cy="267.84" r="0.5"/><circle cx="102.75" cy="265.62" r="0.5"/><circle cx="103.47" cy="269.41" r="0.5"/></g>
<g fill="#000" fill-opacity="0.45"><circle cx="104.65" cy="252.08" r="0.5"/><circle cx="105.78" cy="261.17" r="0.5"/><circle cx="104.49" cy="253.66" r="0.5"/><circle cx="102.71" cy="252.3" r="0.5"/><circle cx="105.22" cy="253.29" r="0.5"/><circle cx="103.21" cy="257.78" r="0.5"/><circle cx="104.61" cy="259.63" r="0.5"/><circle cx="103.64" cy="261.3" r="0.5"/><circle cx="103.51" cy="260.02" r="0.5"/><circle cx="104.56" cy="257.99" r="0.5"/><circle cx="105.27" cy="256.82" r="0.5"/><circle cx="105.4" cy="260.84" r="0.5"/><circle cx="104.52" cy="254.35" r="0.5"/><circle cx="103.72" cy="254.53" r="0.5"/><circle cx="104.21" cy="256.79" r="0.5"/><circle cx="105.09" cy="253.03" r="0.5"/><circle cx="103.76" cy="255.46" r="0.5"/><circle cx="104.57" cy="252.24" r="0.5"/><circle cx="105.85" cy="254.37" r="0.5"/><circle cx="104.39" cy="258.15" r="0.5"/><circle cx="104.57" cy="259.61" r="0.5"/><circle cx="104.65" cy="257.63" r="0.5"/><circle cx="102.69" cy="253.69" r="0.5"/><circle cx="102.29" cy="259.73" r="0.5"/><circle cx="104.67" cy="256.02" r="0.5"/><circle cx="103.66" cy="254.28" r="0.5"/><circle cx="104.34" cy="262.7" r="0.5"/><circle cx="103.96" cy="252.96" r="0.5"/></g>
<ellipse cx="104.39" cy="252.7" rx="1.62" ry="2.41" fill="#000" fill-opacity="0.85"/>
<rect x="103.19" y="252.9" width="2.4" height="10" fill="#000" fill-opacity="0.26"/>
<path d="M126.3 240.07h-1.2M126.3 246.4h-1.2M126.3 252.73h-1.2M126.3 259.07h-1.2M126.3 265.4h-1.2M126.3 271.73h-1.2M129.45 274.9v1.2M135.75 274.9v1.2M142.05 274.9v1.2M148.35 274.9v1.2M154.65 274.9v1.2M160.95 274.9v1.2" stroke="#666" stroke-width="0.7" fill="none"/>
<path d="M126.3 236.9H164.1V274.9" stroke="#888" stroke-width="0.8" fill="none"/>
<path d="M126.3 236.9V274.9H164.1" stroke="#555" stroke-width="1.05" fill="none"/>
<line x1="140.6" y1="236.9" x2="140.6" y2="274.9" stroke="#777" stroke-width="0.85"/>
<line x1="126.3" y1="262.9" x2="164.1" y2="262.9" stroke="#777" stroke-width="0.85"/>
<ellipse cx="155.59" cy="268" rx="2.7" ry="6.6" fill="#000" fill-opacity="0.5"/>
<ellipse cx="155.59" cy="269.5" rx="1.5" ry="4.6" fill="#000" fill-opacity="0.8"/>
<g fill="#000" fill-opacity="0.6"><circle cx="154.81" cy="269.56" r="0.5"/><circle cx="155.66" cy="269.87" r="0.5"/><circle cx="155.55" cy="272.16" r="0.5"/><circle cx="158.08" cy="264.55" r="0.5"/><circle cx="155.82" cy="267.97" r="0.5"/><circle cx="156.09" cy="263.54" r="0.5"/><circle cx="153.13" cy="260.79" r="0.5"/><circle cx="156.33" cy="269.57" r="0.5"/><circle cx="155.7" cy="260.62" r="0.5"/><circle cx="155.07" cy="266.26" r="0.5"/><circle cx="153.62" cy="265.7" r="0.5"/><circle cx="156.57" cy="270.8" r="0.5"/><circle cx="155.56" cy="270.7" r="0.5"/><circle cx="154.75" cy="269.15" r="0.5"/><circle cx="155.65" cy="270.84" r="0.5"/><circle cx="155.5" cy="268.4" r="0.5"/><circle cx="155.41" cy="266.64" r="0.5"/><circle cx="158.72" cy="270.7" r="0.5"/><circle cx="157.56" cy="263.45" r="0.5"/><circle cx="156.57" cy="271.83" r="0.5"/><circle cx="158.23" cy="273.5" r="0.5"/><circle cx="156.67" cy="264.78" r="0.5"/><circle cx="154.38" cy="269.84" r="0.5"/><circle cx="156.3" cy="265.32" r="0.5"/><circle cx="155.06" cy="267.5" r="0.5"/><circle cx="155.68" cy="270.08" r="0.5"/><circle cx="155.19" cy="264.57" r="0.5"/><circle cx="155.45" cy="272.49" r="0.5"/><circle cx="156.22" cy="271.21" r="0.5"/><circle cx="156.27" cy="266.23" r="0.5"/><circle cx="156.4" cy="272.44" r="0.5"/><circle cx="158.38" cy="271.5" r="0.5"/><circle cx="155.12" cy="266.8" r="0.5"/><circle cx="154.46" cy="269.31" r="0.5"/><circle cx="155.55" cy="271.25" r="0.5"/></g>
<g fill="#000" fill-opacity="0.45"><circle cx="157.64" cy="256.78" r="0.5"/><circle cx="156.2" cy="259.04" r="0.5"/></g>
<path d="M177.5 240.07h-1.2M177.5 246.4h-1.2M177.5 252.73h-1.2M177.5 259.07h-1.2M177.5 265.4h-1.2M177.5 271.73h-1.2M180.65 274.9v1.2M186.95 274.9v1.2M193.25 274.9v1.2M199.55 274.9v1.2M205.85 274.9v1.2M212.15 274.9v1.2" stroke="#666" stroke-width="0.7" fill="none"/>
<path d="M177.5 236.9H215.3V274.9" stroke="#888" stroke-width="0.8" fill="none"/>
<path d="M177.5 236.9V274.9H215.3" stroke="#555" stroke-width="1.05" fill="none"/>
<line x1="191.8" y1="236.9" x2="191.8" y2="274.9" stroke="#777" stroke-width="0.85"/>
<line x1="177.5" y1="262.9" x2="215.3" y2="262.9" stroke="#777" stroke-width="0.85"/>
<ellipse cx="206.8" cy="268" rx="2.7" ry="6.6" fill="#000" fill-opacity="0.5"/>
<ellipse cx="206.8" cy="269.5" rx="1.5" ry="4.6" fill="#000" fill-opacity="0.8"/>
<g fill="#000" fill-opacity="0.6"><circle cx="207.18" cy="268.17" r="0.5"/><circle cx="206.62" cy="266.01" r="0.5"/><circle cx="207.04" cy="268.82" r="0.5"/><circle cx="207.24" cy="265.91" r="0.5"/><circle cx="206.85" cy="269.07" r="0.5"/><circle cx="207.64" cy="265.18" r="0.5"/><circle cx="207.38" cy="272.34" r="0.5"/><circle cx="207.63" cy="267.61" r="0.5"/><circle cx="206.11" cy="268.07" r="0.5"/><circle cx="207.82" cy="274.34" r="0.5"/><circle cx="206.57" cy="266.65" r="0.5"/><circle cx="207.32" cy="269.62" r="0.5"/><circle cx="205.52" cy="266.32" r="0.5"/><circle cx="206.65" cy="271.25" r="0.5"/><circle cx="205.12" cy="265.34" r="0.5"/><circle cx="207.49" cy="264.61" r="0.5"/><circle cx="206.95" cy="270.13" r="0.5"/><circle cx="206.64" cy="265.34" r="0.5"/><circle cx="206.71" cy="267.74" r="0.5"/><circle cx="207.27" cy="265.96" r="0.5"/><circle cx="208.32" cy="263.04" r="0.5"/><circle cx="206.55" cy="268.93" r="0.5"/><circle cx="208.14" cy="266.77" r="0.5"/><circle cx="207.56" cy="266.92" r="0.5"/><circle cx="206.23" cy="270.45" r="0.5"/><circle cx="205.5" cy="272.31" r="0.5"/><circle cx="208.49" cy="269.02" r="0.5"/><circle cx="205.21" cy="270.31" r="0.5"/><circle cx="208.4" cy="272.71" r="0.5"/><circle cx="207.93" cy="262.49" r="0.5"/><circle cx="205.84" cy="273.88" r="0.5"/><circle cx="205.08" cy="272.86" r="0.5"/><circle cx="209.43" cy="271.57" r="0.5"/><circle cx="208.36" cy="267.74" r="0.5"/><circle cx="205.08" cy="268.54" r="0.5"/></g>
<g fill="#000" fill-opacity="0.45"><circle cx="206.62" cy="256.69" r="0.5"/><circle cx="207.42" cy="256.25" r="0.5"/><circle cx="206.97" cy="258.81" r="0.5"/><circle cx="207.19" cy="257.28" r="0.5"/><circle cx="206.61" cy="254.09" r="0.5"/><circle cx="208" cy="257.58" r="0.5"/><circle cx="205.82" cy="254.37" r="0.5"/><circle cx="206.67" cy="254.9" r="0.5"/><circle cx="207.77" cy="251.67" r="0.5"/><circle cx="207.24" cy="257.55" r="0.5"/><circle cx="205.74" cy="257.11" r="0.5"/><circle cx="206.71" cy="259.16" r="0.5"/><circle cx="206.39" cy="258.26" r="0.5"/><circle cx="205.3" cy="252.02" r="0.5"/><circle cx="207.5" cy="261.59" r="0.5"/><circle cx="206.78" cy="254.2" r="0.5"/><circle cx="206.08" cy="259.92" r="0.5"/><circle cx="207.38" cy="252.25" r="0.5"/><circle cx="206.93" cy="252.87" r="0.5"/><circle cx="206.84" cy="260.96" r="0.5"/><circle cx="204.46" cy="261.9" r="0.5"/><circle cx="207.82" cy="258.69" r="0.5"/><circle cx="208.82" cy="254.15" r="0.5"/><circle cx="206.8" cy="261.61" r="0.5"/><circle cx="206.22" cy="253.73" r="0.5"/><circle cx="206.46" cy="256.57" r="0.5"/><circle cx="205.82" cy="259.08" r="0.5"/><circle cx="207.28" cy="257.22" r="0.5"/><circle cx="208.33" cy="255.43" r="0.5"/><circle cx="207.97" cy="254.44" r="0.5"/><circle cx="206.97" cy="256.11" r="0.5"/><circle cx="206.35" cy="254.15" r="0.5"/></g>
<ellipse cx="206.8" cy="252.7" rx="1.95" ry="3.58" fill="#000" fill-opacity="1"/>
<rect x="205.6" y="252.9" width="2.4" height="10" fill="#000" fill-opacity="0.3"/>
<line x1="14" y1="273.8" x2="14" y2="43.5" stroke="#333" stroke-width="0.9"/>
<path d="M12.5 44.3 L14 39.5 L15.5 44.3 Z" fill="#333"/>
<line x1="25" y1="285.5" x2="204.5" y2="285.5" stroke="#333" stroke-width="0.9"/>
<path d="M203.7 284 L208.5 285.5 L203.7 287 Z" fill="#333"/>
<line x1="32.4" y1="329.12" x2="32.4" y2="448.6" stroke="#888" stroke-width="1"/>
<line x1="32.4" y1="448.6" x2="159.2" y2="448.6" stroke="#888" stroke-width="1"/>
<line x1="31.1" y1="448.6" x2="32.4" y2="448.6" stroke="#888" stroke-width="0.8"/>
<line x1="31.1" y1="429.02" x2="32.4" y2="429.02" stroke="#888" stroke-width="0.8"/>
<line x1="31.1" y1="409.44" x2="32.4" y2="409.44" stroke="#888" stroke-width="0.8"/>
<line x1="31.1" y1="389.86" x2="32.4" y2="389.86" stroke="#888" stroke-width="0.8"/>
<line x1="31.1" y1="370.28" x2="32.4" y2="370.28" stroke="#888" stroke-width="0.8"/>
<line x1="31.1" y1="350.7" x2="32.4" y2="350.7" stroke="#888" stroke-width="0.8"/>
<line x1="31.1" y1="331.12" x2="32.4" y2="331.12" stroke="#888" stroke-width="0.8"/>
<rect x="35.9" y="446.64" width="8.9" height="1.96" fill="#fff" stroke="#aaa" stroke-width="0.9"/>
<rect x="45.4" y="392.99" width="9.8" height="55.61" fill="#000" stroke="none" stroke-width="1"/>
<line x1="50.3" y1="392.99" x2="50.3" y2="390.45" stroke="#000" stroke-width="0.8"/>
<line x1="48.4" y1="390.45" x2="52.2" y2="390.45" stroke="#000" stroke-width="0.8"/>
<rect x="61.1" y="446.64" width="8.9" height="1.96" fill="#fff" stroke="#aaa" stroke-width="0.9"/>
<rect x="70.6" y="421.19" width="9.8" height="27.41" fill="#000" stroke="none" stroke-width="1"/>
<line x1="75.5" y1="421.19" x2="75.5" y2="419.43" stroke="#000" stroke-width="0.8"/>
<line x1="73.6" y1="419.43" x2="77.4" y2="419.43" stroke="#000" stroke-width="0.8"/>
<path d="M75.6 414.73L75.6 411.93M75.6 414.73L78.26 413.86M75.6 414.73L77.25 416.99M75.6 414.73L73.95 416.99M75.6 414.73L72.94 413.86" stroke="#000" stroke-width="1.5" fill="none"/>
<rect x="86.3" y="446.64" width="8.9" height="1.96" fill="#fff" stroke="#aaa" stroke-width="0.9"/>
<rect x="95.8" y="432.94" width="9.8" height="15.66" fill="#000" stroke="none" stroke-width="1"/>
<line x1="100.7" y1="432.94" x2="100.7" y2="430.98" stroke="#000" stroke-width="0.8"/>
<line x1="98.8" y1="430.98" x2="102.6" y2="430.98" stroke="#000" stroke-width="0.8"/>
<path d="M100.8 426.28L100.8 423.48M100.8 426.28L103.46 425.41M100.8 426.28L102.45 428.54M100.8 426.28L99.15 428.54M100.8 426.28L98.14 425.41" stroke="#000" stroke-width="1.5" fill="none"/>
<rect x="121" y="448.4" width="9.8" height="0.2" fill="#000" stroke="none" stroke-width="1"/>
<path d="M116.5 444.3L116.5 441.5M116.5 444.3L119.16 443.43M116.5 444.3L118.15 446.57M116.5 444.3L114.85 446.57M116.5 444.3L113.84 443.43" stroke="#000" stroke-width="1.5" fill="none"/>
<path d="M126 444.3L126 441.5M126 444.3L128.66 443.43M126 444.3L127.65 446.57M126 444.3L124.35 446.57M126 444.3L123.34 443.43" stroke="#000" stroke-width="1.5" fill="none"/>
<rect x="136.7" y="446.25" width="8.9" height="2.35" fill="#fff" stroke="#aaa" stroke-width="0.9"/>
<rect x="146.2" y="393.19" width="9.8" height="55.41" fill="#000" stroke="none" stroke-width="1"/>
<line x1="151.1" y1="393.19" x2="151.1" y2="392.41" stroke="#000" stroke-width="0.8"/>
<line x1="149.2" y1="392.41" x2="153" y2="392.41" stroke="#000" stroke-width="0.8"/>
<rect x="83" y="361.2" width="3.6" height="3.6" fill="#fff" stroke="#444" stroke-width="0.8"/>
<rect x="82.6" y="370.9" width="4.2" height="4.2" fill="#000" stroke="none" stroke-width="1"/>
<line x1="32.4" y1="521.42" x2="32.4" y2="641.2" stroke="#888" stroke-width="1"/>
<line x1="32.4" y1="641.2" x2="159.2" y2="641.2" stroke="#888" stroke-width="1"/>
<line x1="31.1" y1="641.2" x2="32.4" y2="641.2" stroke="#888" stroke-width="0.8"/>
<line x1="31.1" y1="621.57" x2="32.4" y2="621.57" stroke="#888" stroke-width="0.8"/>
<line x1="31.1" y1="601.94" x2="32.4" y2="601.94" stroke="#888" stroke-width="0.8"/>
<line x1="31.1" y1="582.31" x2="32.4" y2="582.31" stroke="#888" stroke-width="0.8"/>
<line x1="31.1" y1="562.68" x2="32.4" y2="562.68" stroke="#888" stroke-width="0.8"/>
<line x1="31.1" y1="543.05" x2="32.4" y2="543.05" stroke="#888" stroke-width="0.8"/>
<line x1="31.1" y1="523.42" x2="32.4" y2="523.42" stroke="#888" stroke-width="0.8"/>
<rect x="35.9" y="639.43" width="8.9" height="1.77" fill="#e4e4e4" stroke="#999" stroke-width="0.9"/>
<rect x="45.4" y="534.02" width="9.8" height="107.18" fill="#000" stroke="none" stroke-width="1"/>
<line x1="50.3" y1="534.02" x2="50.3" y2="531.47" stroke="#000" stroke-width="0.8"/>
<line x1="48.4" y1="531.47" x2="52.2" y2="531.47" stroke="#000" stroke-width="0.8"/>
<rect x="61.1" y="639.43" width="8.9" height="1.77" fill="#e4e4e4" stroke="#999" stroke-width="0.9"/>
<rect x="70.6" y="593.11" width="9.8" height="48.09" fill="#000" stroke="none" stroke-width="1"/>
<line x1="75.5" y1="593.11" x2="75.5" y2="588.59" stroke="#000" stroke-width="0.8"/>
<line x1="73.6" y1="588.59" x2="77.4" y2="588.59" stroke="#000" stroke-width="0.8"/>
<path d="M75.6 583.89L75.6 581.09M75.6 583.89L78.26 583.03M75.6 583.89L77.25 586.16M75.6 583.89L73.95 586.16M75.6 583.89L72.94 583.03" stroke="#000" stroke-width="1.5" fill="none"/>
<rect x="95.8" y="623.53" width="9.8" height="17.67" fill="#000" stroke="none" stroke-width="1"/>
<line x1="100.7" y1="623.53" x2="100.7" y2="621.18" stroke="#000" stroke-width="0.8"/>
<line x1="98.8" y1="621.18" x2="102.6" y2="621.18" stroke="#000" stroke-width="0.8"/>
<path d="M91.3 636.9L91.3 634.1M91.3 636.9L93.96 636.03M91.3 636.9L92.95 639.17M91.3 636.9L89.65 639.17M91.3 636.9L88.64 636.03" stroke="#000" stroke-width="1.5" fill="none"/>
<path d="M100.8 616.48L100.8 613.68M100.8 616.48L103.46 615.61M100.8 616.48L102.45 618.74M100.8 616.48L99.15 618.74M100.8 616.48L98.14 615.61" stroke="#000" stroke-width="1.5" fill="none"/>
<rect x="121" y="640.81" width="9.8" height="0.39" fill="#000" stroke="none" stroke-width="1"/>
<path d="M116.5 636.9L116.5 634.1M116.5 636.9L119.16 636.03M116.5 636.9L118.15 639.17M116.5 636.9L114.85 639.17M116.5 636.9L113.84 636.03" stroke="#000" stroke-width="1.5" fill="none"/>
<path d="M126 636.9L126 634.1M126 636.9L128.66 636.03M126 636.9L127.65 639.17M126 636.9L124.35 639.17M126 636.9L123.34 636.03" stroke="#000" stroke-width="1.5" fill="none"/>
<rect x="136.7" y="638.84" width="8.9" height="2.36" fill="#fff" stroke="#555" stroke-width="0.9"/>
<rect x="146.2" y="539.12" width="9.8" height="102.08" fill="#000" stroke="none" stroke-width="1"/>
<line x1="151.1" y1="539.12" x2="151.1" y2="535.2" stroke="#000" stroke-width="0.8"/>
<line x1="149.2" y1="535.2" x2="153" y2="535.2" stroke="#000" stroke-width="0.8"/>
<rect x="83" y="554.4" width="3.6" height="3.6" fill="#fff" stroke="#444" stroke-width="0.8"/>
<rect x="82.6" y="564.1" width="4.2" height="4.2" fill="#000" stroke="none" stroke-width="1"/>
<line x1="300.7" y1="142" x2="300.7" y2="13.3" stroke="#333" stroke-width="0.9"/>
<path d="M299.2 14.1 L300.7 9.3 L302.2 14.1 Z" fill="#333"/>
<line x1="311" y1="151.4" x2="334" y2="151.4" stroke="#333" stroke-width="0.9"/>
<path d="M333.2 149.9 L338 151.4 L333.2 152.9 Z" fill="#333"/>
<path d="M310.6 4.39h-1.2M310.6 10.77h-1.2M310.6 17.16h-1.2M310.6 23.54h-1.2M310.6 29.92h-1.2M310.6 36.31h-1.2M313.77 39.5v1.2M320.1 39.5v1.2M326.43 39.5v1.2M332.77 39.5v1.2M339.1 39.5v1.2M345.43 39.5v1.2" stroke="#666" stroke-width="0.7" fill="none"/>
<path d="M310.6 1.2H348.6V39.5" stroke="#888" stroke-width="0.8" fill="none"/>
<path d="M310.6 1.2V39.5H348.6" stroke="#555" stroke-width="1.05" fill="none"/>
<line x1="336.6" y1="1.2" x2="336.6" y2="39.5" stroke="#777" stroke-width="0.85"/>
<line x1="310.6" y1="14.5" x2="348.6" y2="14.5" stroke="#777" stroke-width="0.85"/>
<path d="M310.6 56.19h-1.2M310.6 62.58h-1.2M310.6 68.96h-1.2M310.6 75.34h-1.2M310.6 81.72h-1.2M310.6 88.11h-1.2M313.77 91.3v1.2M320.1 91.3v1.2M326.43 91.3v1.2M332.77 91.3v1.2M339.1 91.3v1.2M345.43 91.3v1.2" stroke="#666" stroke-width="0.7" fill="none"/>
<path d="M310.6 53H348.6V91.3" stroke="#888" stroke-width="0.8" fill="none"/>
<path d="M310.6 53V91.3H348.6" stroke="#555" stroke-width="1.05" fill="none"/>
<line x1="336.6" y1="53" x2="336.6" y2="91.3" stroke="#777" stroke-width="0.85"/>
<line x1="310.6" y1="66.3" x2="348.6" y2="66.3" stroke="#777" stroke-width="0.85"/>
<path d="M310.6 107.19h-1.2M310.6 113.58h-1.2M310.6 119.96h-1.2M310.6 126.34h-1.2M310.6 132.72h-1.2M310.6 139.11h-1.2M313.77 142.3v1.2M320.1 142.3v1.2M326.43 142.3v1.2M332.77 142.3v1.2M339.1 142.3v1.2M345.43 142.3v1.2" stroke="#666" stroke-width="0.7" fill="none"/>
<path d="M310.6 104H348.6V142.3" stroke="#888" stroke-width="0.8" fill="none"/>
<path d="M310.6 104V142.3H348.6" stroke="#555" stroke-width="1.05" fill="none"/>
<line x1="336.6" y1="104" x2="336.6" y2="142.3" stroke="#777" stroke-width="0.85"/>
<line x1="310.6" y1="117.3" x2="348.6" y2="117.3" stroke="#777" stroke-width="0.85"/>
<ellipse cx="340.3" cy="11.8" rx="2.4" ry="1.9" fill="#000"/>
<g fill="#000" fill-opacity="0.5"><circle cx="338.87" cy="11.08" r="0.5"/><circle cx="335.55" cy="11.2" r="0.5"/><circle cx="338.51" cy="11.28" r="0.5"/><circle cx="337.6" cy="11.66" r="0.5"/><circle cx="340.91" cy="11.55" r="0.5"/><circle cx="338.61" cy="13.16" r="0.5"/><circle cx="341.26" cy="12.72" r="0.5"/><circle cx="341.58" cy="11.47" r="0.5"/><circle cx="339.27" cy="12.91" r="0.5"/><circle cx="338.5" cy="11.68" r="0.5"/><circle cx="340.18" cy="12.17" r="0.5"/><circle cx="339" cy="12.78" r="0.5"/><circle cx="339.18" cy="12.53" r="0.5"/><circle cx="341.43" cy="12.46" r="0.5"/></g>
<g fill="#000" fill-opacity="0.6"><circle cx="338.82" cy="61.5" r="0.6"/><circle cx="334.24" cy="61.64" r="0.6"/><circle cx="323.37" cy="62.08" r="0.6"/><circle cx="331.76" cy="61.44" r="0.6"/><circle cx="333.33" cy="61.62" r="0.6"/><circle cx="324.36" cy="62.43" r="0.6"/><circle cx="323.86" cy="61.52" r="0.6"/><circle cx="332.67" cy="62.24" r="0.6"/><circle cx="318.79" cy="61.34" r="0.6"/><circle cx="324.27" cy="63.57" r="0.6"/><circle cx="331.97" cy="61.65" r="0.6"/><circle cx="342.4" cy="62.34" r="0.6"/><circle cx="325.65" cy="62.37" r="0.6"/><circle cx="320.12" cy="61.83" r="0.6"/><circle cx="339.58" cy="62.03" r="0.6"/><circle cx="327.89" cy="62.41" r="0.6"/><circle cx="329.15" cy="62.26" r="0.6"/><circle cx="323.95" cy="61.92" r="0.6"/><circle cx="341.72" cy="62.27" r="0.6"/><circle cx="326.66" cy="61.84" r="0.6"/><circle cx="327.03" cy="61.8" r="0.6"/><circle cx="339.07" cy="61.31" r="0.6"/><circle cx="338.37" cy="61" r="0.6"/><circle cx="336.49" cy="62.15" r="0.6"/><circle cx="336.88" cy="60.91" r="0.6"/><circle cx="335.65" cy="62.52" r="0.6"/><circle cx="340.64" cy="63.43" r="0.6"/><circle cx="318.6" cy="63.46" r="0.6"/><circle cx="337.03" cy="61.49" r="0.6"/><circle cx="341.8" cy="61.82" r="0.6"/><circle cx="332.34" cy="61.08" r="0.6"/><circle cx="339.62" cy="62.99" r="0.6"/><circle cx="333.2" cy="61.66" r="0.6"/><circle cx="329.58" cy="62.9" r="0.6"/><circle cx="336" cy="62.09" r="0.6"/><circle cx="331.94" cy="63.07" r="0.6"/><circle cx="327.8" cy="61.68" r="0.6"/><circle cx="339.06" cy="63.57" r="0.6"/><circle cx="330.59" cy="61.82" r="0.6"/><circle cx="325.86" cy="62.48" r="0.6"/></g>
<rect x="318.5" y="60.8" width="24.2" height="3" rx="1.5" fill="#000" fill-opacity="0.85"/>
<ellipse cx="340.5" cy="62.3" rx="2.6" ry="2" fill="#000"/>
<g fill="#000" fill-opacity="0.6"><circle cx="324.04" cy="112.46" r="0.6"/><circle cx="322.85" cy="112.92" r="0.6"/><circle cx="340.32" cy="112.71" r="0.6"/><circle cx="338.6" cy="114.78" r="0.6"/><circle cx="341.13" cy="113.64" r="0.6"/><circle cx="340.12" cy="114.21" r="0.6"/><circle cx="321.22" cy="114.39" r="0.6"/><circle cx="331.44" cy="113.7" r="0.6"/><circle cx="340.33" cy="113.55" r="0.6"/><circle cx="341.96" cy="112.42" r="0.6"/><circle cx="331.87" cy="112.19" r="0.6"/><circle cx="329.18" cy="113.27" r="0.6"/><circle cx="328.51" cy="112.78" r="0.6"/><circle cx="340.91" cy="112.98" r="0.6"/><circle cx="335.21" cy="113.04" r="0.6"/><circle cx="328.86" cy="113.34" r="0.6"/><circle cx="329.42" cy="112.43" r="0.6"/><circle cx="339.48" cy="113.01" r="0.6"/><circle cx="341.25" cy="112.54" r="0.6"/><circle cx="334.12" cy="113.47" r="0.6"/><circle cx="341.92" cy="112.86" r="0.6"/><circle cx="338.13" cy="114.22" r="0.6"/><circle cx="324.59" cy="112.48" r="0.6"/><circle cx="338.35" cy="115.42" r="0.6"/><circle cx="331.76" cy="114.7" r="0.6"/><circle cx="335.49" cy="114.49" r="0.6"/><circle cx="338.23" cy="115.07" r="0.6"/><circle cx="329.84" cy="113.3" r="0.6"/><circle cx="324.28" cy="113.16" r="0.6"/><circle cx="331.6" cy="114.33" r="0.6"/></g>
<rect x="321" y="111.9" width="21" height="3" rx="1.5" fill="#000" fill-opacity="0.45"/>
<ellipse cx="339.5" cy="113.4" rx="2.6" ry="2" fill="#000"/>
<line x1="300.9" y1="336.8" x2="300.9" y2="208.5" stroke="#333" stroke-width="0.9"/>
<path d="M299.4 209.3 L300.9 204.5 L302.4 209.3 Z" fill="#333"/>
<line x1="311.2" y1="346.3" x2="388.5" y2="346.3" stroke="#333" stroke-width="0.9"/>
<path d="M387.7 344.8 L392.5 346.3 L387.7 347.8 Z" fill="#333"/>
<path d="M310.8 199.19h-1.2M310.8 205.57h-1.2M310.8 211.96h-1.2M310.8 218.34h-1.2M310.8 224.72h-1.2M310.8 231.11h-1.2M313.97 234.3v1.2M320.3 234.3v1.2M326.63 234.3v1.2M332.97 234.3v1.2M339.3 234.3v1.2M345.63 234.3v1.2" stroke="#666" stroke-width="0.7" fill="none"/>
<path d="M310.8 196H348.8V234.3" stroke="#888" stroke-width="0.8" fill="none"/>
<path d="M310.8 196V234.3H348.8" stroke="#555" stroke-width="1.05" fill="none"/>
<line x1="336.8" y1="196" x2="336.8" y2="234.3" stroke="#777" stroke-width="0.85"/>
<line x1="310.8" y1="209.3" x2="348.8" y2="209.3" stroke="#777" stroke-width="0.85"/>
<g fill="#000" fill-opacity="0.6"><circle cx="323.41" cy="205.66" r="0.6"/><circle cx="333.58" cy="206.23" r="0.6"/><circle cx="327.45" cy="206.34" r="0.6"/><circle cx="319.84" cy="205.16" r="0.6"/><circle cx="328.88" cy="205.36" r="0.6"/><circle cx="335.72" cy="204.53" r="0.6"/><circle cx="318.9" cy="204.68" r="0.6"/><circle cx="333.16" cy="206.65" r="0.6"/><circle cx="335.17" cy="205.51" r="0.6"/><circle cx="332.35" cy="206.09" r="0.6"/><circle cx="325.32" cy="204.61" r="0.6"/><circle cx="343.23" cy="204.41" r="0.6"/><circle cx="332.87" cy="204.85" r="0.6"/><circle cx="322.64" cy="205.42" r="0.6"/><circle cx="337.41" cy="205.49" r="0.6"/><circle cx="322.98" cy="205.43" r="0.6"/><circle cx="331.6" cy="205.69" r="0.6"/><circle cx="338.56" cy="204.21" r="0.6"/><circle cx="320.32" cy="206.57" r="0.6"/><circle cx="326.71" cy="205.31" r="0.6"/><circle cx="336.33" cy="204.9" r="0.6"/><circle cx="325.33" cy="205.59" r="0.6"/><circle cx="321.24" cy="206.07" r="0.6"/><circle cx="327.35" cy="204.6" r="0.6"/><circle cx="329.82" cy="205" r="0.6"/><circle cx="340.62" cy="205.38" r="0.6"/><circle cx="333.08" cy="206.03" r="0.6"/><circle cx="333.99" cy="204.98" r="0.6"/><circle cx="324.91" cy="206.98" r="0.6"/><circle cx="339.74" cy="205.7" r="0.6"/></g>
<rect x="318.8" y="203.7" width="24.5" height="3" rx="1.5" fill="#000" fill-opacity="0.7"/>
<ellipse cx="341.8" cy="205.2" rx="2.6" ry="2" fill="#000"/>
<path d="M361.6 199.19h-1.2M361.6 205.57h-1.2M361.6 211.96h-1.2M361.6 218.34h-1.2M361.6 224.72h-1.2M361.6 231.11h-1.2M364.77 234.3v1.2M371.1 234.3v1.2M377.43 234.3v1.2M383.77 234.3v1.2M390.1 234.3v1.2M396.43 234.3v1.2" stroke="#666" stroke-width="0.7" fill="none"/>
<path d="M361.6 196H399.6V234.3" stroke="#888" stroke-width="0.8" fill="none"/>
<path d="M361.6 196V234.3H399.6" stroke="#555" stroke-width="1.05" fill="none"/>
<line x1="387.6" y1="196" x2="387.6" y2="234.3" stroke="#777" stroke-width="0.85"/>
<line x1="361.6" y1="209.3" x2="399.6" y2="209.3" stroke="#777" stroke-width="0.85"/>
<g fill="#000" fill-opacity="0.6"><circle cx="377.31" cy="206.38" r="0.6"/><circle cx="377.04" cy="204.33" r="0.6"/><circle cx="384.36" cy="206.11" r="0.6"/><circle cx="392.87" cy="204.97" r="0.6"/><circle cx="375.55" cy="204.22" r="0.6"/><circle cx="375.02" cy="206.01" r="0.6"/><circle cx="377.17" cy="205.85" r="0.6"/><circle cx="389.02" cy="204.55" r="0.6"/><circle cx="375.56" cy="205.55" r="0.6"/><circle cx="374.17" cy="205.87" r="0.6"/><circle cx="393.4" cy="204.94" r="0.6"/><circle cx="372.41" cy="206.19" r="0.6"/><circle cx="382.68" cy="204.59" r="0.6"/><circle cx="371.2" cy="205.74" r="0.6"/><circle cx="372.62" cy="205.54" r="0.6"/><circle cx="375.6" cy="204.54" r="0.6"/><circle cx="374.28" cy="205.08" r="0.6"/><circle cx="370.46" cy="205.78" r="0.6"/><circle cx="385.87" cy="204.95" r="0.6"/><circle cx="386.89" cy="205.59" r="0.6"/><circle cx="371.87" cy="205.01" r="0.6"/><circle cx="372.73" cy="206.71" r="0.6"/><circle cx="380.46" cy="205.95" r="0.6"/><circle cx="373.5" cy="203.96" r="0.6"/><circle cx="378.25" cy="205.07" r="0.6"/><circle cx="393.08" cy="204.43" r="0.6"/><circle cx="374.7" cy="206.1" r="0.6"/><circle cx="375.17" cy="204.91" r="0.6"/><circle cx="380.69" cy="206.05" r="0.6"/><circle cx="375.99" cy="206.12" r="0.6"/></g>
<rect x="369.6" y="203.7" width="24.5" height="3" rx="1.5" fill="#000" fill-opacity="0.5"/>
<ellipse cx="392.6" cy="205.2" rx="2.6" ry="2" fill="#000"/>
<path d="M310.8 250.69h-1.2M310.8 257.07h-1.2M310.8 263.46h-1.2M310.8 269.84h-1.2M310.8 276.23h-1.2M310.8 282.61h-1.2M313.97 285.8v1.2M320.3 285.8v1.2M326.63 285.8v1.2M332.97 285.8v1.2M339.3 285.8v1.2M345.63 285.8v1.2" stroke="#666" stroke-width="0.7" fill="none"/>
<path d="M310.8 247.5H348.8V285.8" stroke="#888" stroke-width="0.8" fill="none"/>
<path d="M310.8 247.5V285.8H348.8" stroke="#555" stroke-width="1.05" fill="none"/>
<line x1="336.8" y1="247.5" x2="336.8" y2="285.8" stroke="#777" stroke-width="0.85"/>
<line x1="310.8" y1="260.8" x2="348.8" y2="260.8" stroke="#777" stroke-width="0.85"/>
<g fill="#000" fill-opacity="0.6"><circle cx="340.84" cy="256.05" r="0.6"/><circle cx="324.83" cy="256.3" r="0.6"/><circle cx="333.7" cy="257.08" r="0.6"/><circle cx="321.81" cy="258.28" r="0.6"/><circle cx="331.37" cy="256.09" r="0.6"/><circle cx="337.71" cy="256.53" r="0.6"/><circle cx="328.23" cy="256.13" r="0.6"/><circle cx="326.41" cy="255.83" r="0.6"/><circle cx="328.35" cy="257.13" r="0.6"/><circle cx="339.65" cy="256.96" r="0.6"/><circle cx="326.67" cy="256.5" r="0.6"/><circle cx="332.57" cy="256.37" r="0.6"/><circle cx="327.66" cy="256.03" r="0.6"/><circle cx="320.41" cy="256.7" r="0.6"/><circle cx="326.43" cy="256.76" r="0.6"/><circle cx="336.36" cy="257.11" r="0.6"/><circle cx="325.72" cy="255.26" r="0.6"/><circle cx="337.79" cy="257.7" r="0.6"/><circle cx="340.43" cy="256.97" r="0.6"/><circle cx="325.57" cy="256.37" r="0.6"/><circle cx="319.52" cy="256.19" r="0.6"/><circle cx="327.41" cy="255.63" r="0.6"/><circle cx="328.91" cy="256.03" r="0.6"/><circle cx="324.89" cy="255.66" r="0.6"/><circle cx="339.54" cy="256.03" r="0.6"/><circle cx="323.25" cy="257.6" r="0.6"/><circle cx="321.62" cy="257.81" r="0.6"/><circle cx="336.26" cy="256.02" r="0.6"/><circle cx="319.79" cy="257.16" r="0.6"/><circle cx="323.65" cy="256.82" r="0.6"/></g>
<rect x="318.8" y="255.2" width="24.5" height="3" rx="1.5" fill="#000" fill-opacity="0.75"/>
<ellipse cx="341.8" cy="256.7" rx="2.6" ry="2" fill="#000"/>
<path d="M361.6 250.69h-1.2M361.6 257.07h-1.2M361.6 263.46h-1.2M361.6 269.84h-1.2M361.6 276.23h-1.2M361.6 282.61h-1.2M364.77 285.8v1.2M371.1 285.8v1.2M377.43 285.8v1.2M383.77 285.8v1.2M390.1 285.8v1.2M396.43 285.8v1.2" stroke="#666" stroke-width="0.7" fill="none"/>
<path d="M361.6 247.5H399.6V285.8" stroke="#888" stroke-width="0.8" fill="none"/>
<path d="M361.6 247.5V285.8H399.6" stroke="#555" stroke-width="1.05" fill="none"/>
<line x1="387.6" y1="247.5" x2="387.6" y2="285.8" stroke="#777" stroke-width="0.85"/>
<line x1="361.6" y1="260.8" x2="399.6" y2="260.8" stroke="#777" stroke-width="0.85"/>
<g fill="#000" fill-opacity="0.6"><circle cx="377.03" cy="256.53" r="0.6"/><circle cx="377.22" cy="256.85" r="0.6"/><circle cx="385.24" cy="257.35" r="0.6"/><circle cx="383.57" cy="258.08" r="0.6"/><circle cx="387.16" cy="256.67" r="0.6"/><circle cx="386.37" cy="257.55" r="0.6"/><circle cx="378.15" cy="258.22" r="0.6"/><circle cx="388.62" cy="256.71" r="0.6"/><circle cx="376.62" cy="258.21" r="0.6"/><circle cx="384.48" cy="257.12" r="0.6"/><circle cx="370.76" cy="256.71" r="0.6"/><circle cx="388.99" cy="257.09" r="0.6"/><circle cx="374.75" cy="257.84" r="0.6"/><circle cx="371.71" cy="256.02" r="0.6"/><circle cx="386.62" cy="255.66" r="0.6"/><circle cx="389.9" cy="257.52" r="0.6"/><circle cx="376.49" cy="258.33" r="0.6"/><circle cx="379.99" cy="257.74" r="0.6"/><circle cx="392.39" cy="256.23" r="0.6"/><circle cx="389.93" cy="255.48" r="0.6"/><circle cx="384.99" cy="256.44" r="0.6"/><circle cx="386.71" cy="256.78" r="0.6"/><circle cx="380.09" cy="254.87" r="0.6"/><circle cx="372.73" cy="256.56" r="0.6"/><circle cx="388.27" cy="257.9" r="0.6"/><circle cx="389.34" cy="257.04" r="0.6"/><circle cx="376" cy="254.68" r="0.6"/><circle cx="385.22" cy="256.09" r="0.6"/><circle cx="382.93" cy="256.7" r="0.6"/><circle cx="378.37" cy="256.98" r="0.6"/></g>
<rect x="369.6" y="255.2" width="24.5" height="3" rx="1.5" fill="#000" fill-opacity="0.85"/>
<ellipse cx="392.6" cy="256.7" rx="2.6" ry="2" fill="#000"/>
<path d="M310.8 301.99h-1.2M310.8 308.38h-1.2M310.8 314.76h-1.2M310.8 321.14h-1.2M310.8 327.53h-1.2M310.8 333.91h-1.2M313.97 337.1v1.2M320.3 337.1v1.2M326.63 337.1v1.2M332.97 337.1v1.2M339.3 337.1v1.2M345.63 337.1v1.2" stroke="#666" stroke-width="0.7" fill="none"/>
<path d="M310.8 298.8H348.8V337.1" stroke="#888" stroke-width="0.8" fill="none"/>
<path d="M310.8 298.8V337.1H348.8" stroke="#555" stroke-width="1.05" fill="none"/>
<line x1="336.8" y1="298.8" x2="336.8" y2="337.1" stroke="#777" stroke-width="0.85"/>
<line x1="310.8" y1="312.1" x2="348.8" y2="312.1" stroke="#777" stroke-width="0.85"/>
<g fill="#000" fill-opacity="0.6"><circle cx="328.89" cy="308.21" r="0.6"/><circle cx="322.15" cy="308.66" r="0.6"/><circle cx="336.12" cy="307.72" r="0.6"/><circle cx="324.72" cy="307.48" r="0.6"/><circle cx="331.43" cy="306.24" r="0.6"/><circle cx="327.41" cy="308.63" r="0.6"/><circle cx="326.13" cy="308.33" r="0.6"/><circle cx="332.6" cy="307.71" r="0.6"/><circle cx="326.97" cy="308.4" r="0.6"/><circle cx="337.43" cy="307.08" r="0.6"/><circle cx="322.95" cy="307.46" r="0.6"/><circle cx="330.1" cy="307.06" r="0.6"/><circle cx="337.57" cy="308.19" r="0.6"/><circle cx="325.89" cy="307.66" r="0.6"/><circle cx="327.63" cy="308.08" r="0.6"/><circle cx="325.68" cy="308.27" r="0.6"/><circle cx="323.63" cy="307.74" r="0.6"/><circle cx="321.57" cy="307.17" r="0.6"/><circle cx="326.75" cy="307.25" r="0.6"/><circle cx="322.92" cy="308.15" r="0.6"/><circle cx="320.56" cy="310.48" r="0.6"/><circle cx="337.19" cy="308.17" r="0.6"/><circle cx="320.86" cy="307.54" r="0.6"/><circle cx="332.61" cy="305.81" r="0.6"/><circle cx="321.47" cy="307.15" r="0.6"/><circle cx="323.45" cy="308.06" r="0.6"/><circle cx="332.11" cy="309.79" r="0.6"/><circle cx="334.59" cy="308.09" r="0.6"/><circle cx="334.18" cy="309.07" r="0.6"/><circle cx="324.96" cy="307.54" r="0.6"/></g>
<rect x="318.8" y="306.5" width="24.5" height="3" rx="1.5" fill="#000" fill-opacity="0.8"/>
<ellipse cx="341.8" cy="308" rx="2.6" ry="2" fill="#000"/>
<path d="M361.6 301.99h-1.2M361.6 308.38h-1.2M361.6 314.76h-1.2M361.6 321.14h-1.2M361.6 327.53h-1.2M361.6 333.91h-1.2M364.77 337.1v1.2M371.1 337.1v1.2M377.43 337.1v1.2M383.77 337.1v1.2M390.1 337.1v1.2M396.43 337.1v1.2" stroke="#666" stroke-width="0.7" fill="none"/>
<path d="M361.6 298.8H399.6V337.1" stroke="#888" stroke-width="0.8" fill="none"/>
<path d="M361.6 298.8V337.1H399.6" stroke="#555" stroke-width="1.05" fill="none"/>
<line x1="387.6" y1="298.8" x2="387.6" y2="337.1" stroke="#777" stroke-width="0.85"/>
<line x1="361.6" y1="312.1" x2="399.6" y2="312.1" stroke="#777" stroke-width="0.85"/>
<g fill="#000" fill-opacity="0.6"><circle cx="375.63" cy="308.12" r="0.6"/><circle cx="388.57" cy="308.14" r="0.6"/><circle cx="390.17" cy="307.85" r="0.6"/><circle cx="385.23" cy="308.49" r="0.6"/><circle cx="390.32" cy="308.44" r="0.6"/><circle cx="388.82" cy="307.78" r="0.6"/><circle cx="389.94" cy="307.97" r="0.6"/><circle cx="374.12" cy="307.29" r="0.6"/><circle cx="389.82" cy="307.67" r="0.6"/><circle cx="383.1" cy="308.69" r="0.6"/><circle cx="378.65" cy="308.29" r="0.6"/><circle cx="370.61" cy="307.48" r="0.6"/><circle cx="383.49" cy="306.97" r="0.6"/><circle cx="386.89" cy="306.93" r="0.6"/><circle cx="391.78" cy="308.88" r="0.6"/><circle cx="381.84" cy="307.68" r="0.6"/><circle cx="373.46" cy="307.68" r="0.6"/><circle cx="371.57" cy="309" r="0.6"/><circle cx="386.46" cy="308.45" r="0.6"/><circle cx="393.36" cy="308.74" r="0.6"/><circle cx="371.8" cy="308.83" r="0.6"/><circle cx="374.27" cy="308.21" r="0.6"/><circle cx="387.31" cy="309.53" r="0.6"/><circle cx="390.56" cy="308.03" r="0.6"/><circle cx="388.88" cy="307.42" r="0.6"/><circle cx="385.81" cy="308.29" r="0.6"/><circle cx="382.21" cy="307.36" r="0.6"/><circle cx="380.35" cy="308.35" r="0.6"/><circle cx="385.92" cy="308.8" r="0.6"/><circle cx="373.63" cy="306.46" r="0.6"/></g>
<rect x="369.6" y="306.5" width="24.5" height="3" rx="1.5" fill="#000" fill-opacity="0.9"/>
<ellipse cx="392.6" cy="308" rx="2.6" ry="2" fill="#000"/>
<line x1="320.3" y1="392" x2="320.3" y2="511.8" stroke="#888" stroke-width="1"/>
<line x1="320.3" y1="511.8" x2="447.5" y2="511.8" stroke="#888" stroke-width="1"/>
<line x1="319" y1="511.8" x2="320.3" y2="511.8" stroke="#888" stroke-width="0.8"/>
<line x1="319" y1="496.95" x2="320.3" y2="496.95" stroke="#888" stroke-width="0.8"/>
<line x1="319" y1="482.1" x2="320.3" y2="482.1" stroke="#888" stroke-width="0.8"/>
<line x1="319" y1="467.25" x2="320.3" y2="467.25" stroke="#888" stroke-width="0.8"/>
<line x1="319" y1="452.4" x2="320.3" y2="452.4" stroke="#888" stroke-width="0.8"/>
<line x1="319" y1="437.55" x2="320.3" y2="437.55" stroke="#888" stroke-width="0.8"/>
<line x1="319" y1="422.7" x2="320.3" y2="422.7" stroke="#888" stroke-width="0.8"/>
<line x1="319" y1="407.85" x2="320.3" y2="407.85" stroke="#888" stroke-width="0.8"/>
<line x1="319" y1="393" x2="320.3" y2="393" stroke="#888" stroke-width="0.8"/>
<defs><pattern id="hatch" patternUnits="userSpaceOnUse" width="5.5" height="5.5" patternTransform="rotate(40)"><line x1="0" y1="0" x2="0" y2="5.5" stroke="#000" stroke-width="1.5"/></pattern></defs>
<rect x="324.4" y="510.61" width="8.8" height="1.19" fill="#fff" stroke="#999" stroke-width="0.8"/>
<clipPath id="hc"><rect x="347" y="448.69" width="9.3" height="63.11"/></clipPath>
<path d="M346 447.5L357.3 437.8M346 457.5L357.3 447.8M346 467.5L357.3 457.8M346 477.5L357.3 467.8M346 487.5L357.3 477.8M346 497.5L357.3 487.8M346 507.5L357.3 497.8M346 517.5L357.3 507.8M346 527.5L357.3 517.8" stroke="#111" stroke-width="1.3" fill="none" clip-path="url(#hc)"/>
<rect x="347.4" y="448.69" width="8.5" height="63.11" fill="none" stroke="#555" stroke-width="0.8"/>
<line x1="351.65" y1="448.69" x2="351.65" y2="445.72" stroke="#000" stroke-width="0.8"/>
<line x1="349.85" y1="445.72" x2="353.45" y2="445.72" stroke="#000" stroke-width="0.8"/>
<rect x="369.6" y="484.33" width="7.7" height="27.47" fill="#fff" stroke="#222" stroke-width="0.8"/>
<line x1="373.45" y1="484.33" x2="373.45" y2="481.36" stroke="#000" stroke-width="0.8"/>
<line x1="371.65" y1="481.36" x2="375.25" y2="481.36" stroke="#000" stroke-width="0.8"/>
<path d="M373.45 476.56L373.45 473.76M373.45 476.56L376.11 475.69M373.45 476.56L375.1 478.82M373.45 476.56L371.8 478.82M373.45 476.56L370.79 475.69" stroke="#000" stroke-width="1.5" fill="none"/>
<rect x="386.7" y="461.31" width="7.7" height="50.49" fill="#fff" stroke="#222" stroke-width="0.8"/>
<line x1="390.55" y1="461.31" x2="390.55" y2="458.04" stroke="#000" stroke-width="0.8"/>
<line x1="388.75" y1="458.04" x2="392.35" y2="458.04" stroke="#000" stroke-width="0.8"/>
<path d="M390.55 453.24L390.55 450.44M390.55 453.24L393.21 452.38M390.55 453.24L392.2 455.51M390.55 453.24L388.9 455.51M390.55 453.24L387.89 452.38" stroke="#000" stroke-width="1.5" fill="none"/>
<rect x="394.8" y="477.64" width="8.1" height="34.16" fill="#000" stroke="none" stroke-width="1"/>
<line x1="398.85" y1="477.64" x2="398.85" y2="475.12" stroke="#000" stroke-width="0.8"/>
<line x1="397.05" y1="475.12" x2="400.65" y2="475.12" stroke="#000" stroke-width="0.8"/>
<path d="M398.85 470.32L398.85 467.52M398.85 470.32L401.51 469.46M398.85 470.32L400.5 472.59M398.85 470.32L397.2 472.59M398.85 470.32L396.19 469.46" stroke="#000" stroke-width="1.5" fill="none"/>
<rect x="407.9" y="454.18" width="7.5" height="57.62" fill="#fff" stroke="#222" stroke-width="0.8"/>
<line x1="411.65" y1="454.18" x2="411.65" y2="450.47" stroke="#000" stroke-width="0.8"/>
<line x1="409.85" y1="450.47" x2="413.45" y2="450.47" stroke="#000" stroke-width="0.8"/>
<rect x="415.8" y="434.88" width="8.2" height="76.92" fill="#000" stroke="none" stroke-width="1"/>
<line x1="419.9" y1="434.88" x2="419.9" y2="430.12" stroke="#000" stroke-width="0.8"/>
<line x1="418.1" y1="430.12" x2="421.7" y2="430.12" stroke="#000" stroke-width="0.8"/>
<path d="M419.9 425.32L419.9 422.52M419.9 425.32L422.56 424.46M419.9 425.32L421.55 427.59M419.9 425.32L418.25 427.59M419.9 425.32L417.24 424.46" stroke="#000" stroke-width="1.5" fill="none"/>
<rect x="429.1" y="443.49" width="7.2" height="68.31" fill="#fff" stroke="#222" stroke-width="0.8"/>
<line x1="432.7" y1="443.49" x2="432.7" y2="439.78" stroke="#000" stroke-width="0.8"/>
<line x1="430.9" y1="439.78" x2="434.5" y2="439.78" stroke="#000" stroke-width="0.8"/>
<rect x="436.7" y="432.35" width="8.6" height="79.45" fill="#000" stroke="none" stroke-width="1"/>
<line x1="441" y1="432.35" x2="441" y2="427.75" stroke="#000" stroke-width="0.8"/>
<line x1="439.2" y1="427.75" x2="442.8" y2="427.75" stroke="#000" stroke-width="0.8"/>
<path d="M441 422.95L441 420.15M441 422.95L443.66 422.08M441 422.95L442.65 425.21M441 422.95L439.35 425.21M441 422.95L438.34 422.08" stroke="#000" stroke-width="1.5" fill="none"/>
<rect x="370.8" y="412.6" width="3.6" height="3.6" fill="#fff" stroke="#333" stroke-width="0.8"/>
<rect x="370.6" y="422.6" width="3.9" height="3.9" fill="#000" stroke="none" stroke-width="1"/>
<g fill="#000" stroke="#000" stroke-width="0.3">
<text x="0.4" y="10.8" font-size="13.5" text-anchor="start" letter-spacing="0"><tspan>A</tspan></text>
<text x="68" y="8.6" font-size="8.2" text-anchor="middle" letter-spacing="0.12"><tspan>Sp</tspan></text>
<text x="173" y="8.6" font-size="8.2" text-anchor="middle" letter-spacing="0.12"><tspan>MLNs</tspan></text>
<text x="44.6" y="20.8" font-size="8.2" text-anchor="middle" letter-spacing="0.12"><tspan>None</tspan></text>
<text x="94.5" y="20.8" font-size="8.2" text-anchor="middle" letter-spacing="0.12"><tspan>OVA</tspan></text>
<text x="146.3" y="20.8" font-size="8.2" text-anchor="middle" letter-spacing="0.12"><tspan>None</tspan></text>
<text x="197" y="20.8" font-size="8.2" text-anchor="middle" letter-spacing="0.12"><tspan>OVA</tspan></text>
<text x="60.7" y="38.8" font-size="6.3" text-anchor="end" letter-spacing="0" stroke-width="0.12"><tspan>1.1</tspan></text>
<text x="111.9" y="38.8" font-size="6.3" text-anchor="end" letter-spacing="0" stroke-width="0.12"><tspan>29.3</tspan></text>
<text x="163.1" y="38.8" font-size="6.3" text-anchor="end" letter-spacing="0" stroke-width="0.12"><tspan>0.7</tspan></text>
<text x="214.3" y="38.8" font-size="6.3" text-anchor="end" letter-spacing="0" stroke-width="0.12"><tspan>52.4</tspan></text>
<text x="220" y="52.1" font-size="8.4" text-anchor="start" letter-spacing="0.12"><tspan>WT</tspan></text>
<text x="60.7" y="89.9" font-size="6.3" text-anchor="end" letter-spacing="0" stroke-width="0.12"><tspan>1.1</tspan></text>
<text x="111.9" y="89.9" font-size="6.3" text-anchor="end" letter-spacing="0" stroke-width="0.12"><tspan>12.6</tspan></text>
<text x="163.1" y="89.9" font-size="6.3" text-anchor="end" letter-spacing="0" stroke-width="0.12"><tspan>0.7</tspan></text>
<text x="214.3" y="89.9" font-size="6.3" text-anchor="end" letter-spacing="0" stroke-width="0.12"><tspan>22.3</tspan></text>
<text x="220" y="103.2" font-size="8.4" text-anchor="start" letter-spacing="0.12"><tspan font-style="italic">Cd80/Cd86</tspan><tspan font-size="6.05" dy="-2.35" letter-spacing="0.3">-/-</tspan></text>
<text x="60.7" y="141" font-size="6.3" text-anchor="end" letter-spacing="0" stroke-width="0.12"><tspan>0.8</tspan></text>
<text x="111.9" y="141" font-size="6.3" text-anchor="end" letter-spacing="0" stroke-width="0.12"><tspan>6.9</tspan></text>
<text x="163.1" y="141" font-size="6.3" text-anchor="end" letter-spacing="0" stroke-width="0.12"><tspan>&lt;0.1</tspan></text>
<text x="214.3" y="141" font-size="6.3" text-anchor="end" letter-spacing="0" stroke-width="0.12"><tspan>7.8</tspan></text>
<text x="220" y="154.3" font-size="8.4" text-anchor="start" letter-spacing="0.12"><tspan font-style="italic">B7h1</tspan><tspan font-size="6.05" dy="-2.35" letter-spacing="0.3">-/-</tspan></text>
<text x="60.7" y="192.1" font-size="6.3" text-anchor="end" letter-spacing="0" stroke-width="0.12"><tspan>&lt;0.1</tspan></text>
<text x="111.9" y="192.1" font-size="6.3" text-anchor="end" letter-spacing="0" stroke-width="0.12"><tspan>0.2</tspan></text>
<text x="163.1" y="192.1" font-size="6.3" text-anchor="end" letter-spacing="0" stroke-width="0.12"><tspan>0.0</tspan></text>
<text x="214.3" y="192.1" font-size="6.3" text-anchor="end" letter-spacing="0" stroke-width="0.12"><tspan>0.1</tspan></text>
<text x="220" y="205.4" font-size="8.4" text-anchor="start" letter-spacing="0.12"><tspan font-style="italic">B7dc</tspan><tspan font-size="6.05" dy="-2.35" letter-spacing="0.3">-/-</tspan></text>
<text x="60.7" y="243.2" font-size="6.3" text-anchor="end" letter-spacing="0" stroke-width="0.12"><tspan>1.3</tspan></text>
<text x="111.9" y="243.2" font-size="6.3" text-anchor="end" letter-spacing="0" stroke-width="0.12"><tspan>27.4</tspan></text>
<text x="163.1" y="243.2" font-size="6.3" text-anchor="end" letter-spacing="0" stroke-width="0.12"><tspan>0.6</tspan></text>
<text x="214.3" y="243.2" font-size="6.3" text-anchor="end" letter-spacing="0" stroke-width="0.12"><tspan>53.3</tspan></text>
<text x="220" y="256.5" font-size="8.4" text-anchor="start" letter-spacing="0.12"><tspan font-style="italic">B7h2</tspan><tspan font-size="6.05" dy="-2.35" letter-spacing="0.3">-/-</tspan></text>
<text x="8.9" y="154.3" font-size="8.7" text-anchor="middle" letter-spacing="0.12" transform="rotate(-90 8.9 154.3)"><tspan>Foxp3</tspan><tspan font-size="6.61" dy="-1.57">EGFP</tspan></text>
<text x="105.5" y="295.6" font-size="8.2" text-anchor="start" letter-spacing="0.12"><tspan>KJ1-26</tspan></text>
<text x="0.4" y="322.6" font-size="13.5" text-anchor="start" letter-spacing="0"><tspan>B</tspan></text>
<text x="29.8" y="451.5" font-size="8" text-anchor="end" letter-spacing="0"><tspan>0</tspan></text>
<text x="29.8" y="431.92" font-size="8" text-anchor="end" letter-spacing="0"><tspan>10</tspan></text>
<text x="29.8" y="412.34" font-size="8" text-anchor="end" letter-spacing="0"><tspan>20</tspan></text>
<text x="29.8" y="392.76" font-size="8" text-anchor="end" letter-spacing="0"><tspan>30</tspan></text>
<text x="29.8" y="373.18" font-size="8" text-anchor="end" letter-spacing="0"><tspan>40</tspan></text>
<text x="29.8" y="353.6" font-size="8" text-anchor="end" letter-spacing="0"><tspan>50</tspan></text>
<text x="29.8" y="334.02" font-size="8" text-anchor="end" letter-spacing="0"><tspan>60</tspan></text>
<text x="82.8" y="353.6" font-size="8.2" text-anchor="start" letter-spacing="0.12"><tspan>Sp</tspan></text>
<text x="89" y="366" font-size="8.2" text-anchor="start" letter-spacing="0.12"><tspan>None</tspan></text>
<text x="89" y="376" font-size="8.2" text-anchor="start" letter-spacing="0.12"><tspan>OVA</tspan></text>
<text x="10.2" y="390.1" font-size="8.6" text-anchor="middle" letter-spacing="0.1" transform="rotate(-90 10.2 390.1)"><tspan>KJ1-26</tspan><tspan font-size="6.54" dy="-1.72">+</tspan><tspan dy="1.72">Foxp3</tspan><tspan font-size="6.54" dy="-1.72">EGFP</tspan><tspan font-size="6.54" dy="0">+</tspan><tspan dy="1.72">T cells (%)</tspan></text>
<text x="49.9" y="457.4" font-size="8.6" text-anchor="end" letter-spacing="0" transform="rotate(-39 49.9 457.4)"><tspan>WT</tspan></text>
<text x="75.1" y="457.4" font-size="8.6" text-anchor="end" letter-spacing="0" transform="rotate(-39 75.1 457.4)"><tspan>Cd80/Cd86</tspan><tspan font-size="6.19" dy="-2.92" letter-spacing="0.1">-/-</tspan></text>
<text x="100.3" y="457.4" font-size="8.6" text-anchor="end" letter-spacing="0" transform="rotate(-39 100.3 457.4)"><tspan>B7h1</tspan><tspan font-size="6.19" dy="-2.92" letter-spacing="0.1">-/-</tspan></text>
<text x="125.5" y="457.4" font-size="8.6" text-anchor="end" letter-spacing="0" transform="rotate(-39 125.5 457.4)"><tspan>B7dc</tspan><tspan font-size="6.19" dy="-2.92" letter-spacing="0.1">-/-</tspan></text>
<text x="150.7" y="457.4" font-size="8.6" text-anchor="end" letter-spacing="0" transform="rotate(-39 150.7 457.4)"><tspan>B7h2</tspan><tspan font-size="6.19" dy="-2.92" letter-spacing="0.1">-/-</tspan></text>
<text x="0.4" y="516.4" font-size="13.5" text-anchor="start" letter-spacing="0"><tspan>C</tspan></text>
<text x="29.8" y="644.1" font-size="8" text-anchor="end" letter-spacing="0"><tspan>0</tspan></text>
<text x="29.8" y="624.47" font-size="8" text-anchor="end" letter-spacing="0"><tspan>10</tspan></text>
<text x="29.8" y="604.84" font-size="8" text-anchor="end" letter-spacing="0"><tspan>20</tspan></text>
<text x="29.8" y="585.21" font-size="8" text-anchor="end" letter-spacing="0"><tspan>30</tspan></text>
<text x="29.8" y="565.58" font-size="8" text-anchor="end" letter-spacing="0"><tspan>40</tspan></text>
<text x="29.8" y="545.95" font-size="8" text-anchor="end" letter-spacing="0"><tspan>50</tspan></text>
<text x="29.8" y="526.32" font-size="8" text-anchor="end" letter-spacing="0"><tspan>60</tspan></text>
<text x="82.8" y="546.8" font-size="8.2" text-anchor="start" letter-spacing="0.12"><tspan>MLNs</tspan></text>
<text x="89" y="559.2" font-size="8.2" text-anchor="start" letter-spacing="0.12"><tspan>None</tspan></text>
<text x="89" y="569.2" font-size="8.2" text-anchor="start" letter-spacing="0.12"><tspan>OVA</tspan></text>
<text x="10.2" y="582.7" font-size="8.6" text-anchor="middle" letter-spacing="0.1" transform="rotate(-90 10.2 582.7)"><tspan>KJ1-26</tspan><tspan font-size="6.54" dy="-1.72">+</tspan><tspan dy="1.72">Foxp3</tspan><tspan font-size="6.54" dy="-1.72">EGFP</tspan><tspan font-size="6.54" dy="0">+</tspan><tspan dy="1.72">T cells (%)</tspan></text>
<text x="49.9" y="650" font-size="8.6" text-anchor="end" letter-spacing="0" transform="rotate(-39 49.9 650)"><tspan>WT</tspan></text>
<text x="75.1" y="650" font-size="8.6" text-anchor="end" letter-spacing="0" transform="rotate(-39 75.1 650)"><tspan>Cd80/Cd86</tspan><tspan font-size="6.19" dy="-2.92" letter-spacing="0.1">-/-</tspan></text>
<text x="100.3" y="650" font-size="8.6" text-anchor="end" letter-spacing="0" transform="rotate(-39 100.3 650)"><tspan>B7h1</tspan><tspan font-size="6.19" dy="-2.92" letter-spacing="0.1">-/-</tspan></text>
<text x="125.5" y="650" font-size="8.6" text-anchor="end" letter-spacing="0" transform="rotate(-39 125.5 650)"><tspan>B7dc</tspan><tspan font-size="6.19" dy="-2.92" letter-spacing="0.1">-/-</tspan></text>
<text x="150.7" y="650" font-size="8.6" text-anchor="end" letter-spacing="0" transform="rotate(-39 150.7 650)"><tspan>B7h2</tspan><tspan font-size="6.19" dy="-2.92" letter-spacing="0.1">-/-</tspan></text>
<text x="284.4" y="10.6" font-size="13.5" text-anchor="start" letter-spacing="0"><tspan>D</tspan></text>
<text x="294.6" y="71.9" font-size="8.2" text-anchor="middle" letter-spacing="0.12" transform="rotate(-90 294.6 71.9)"><tspan>KJ1-26</tspan></text>
<text x="326.5" y="161.2" font-size="8.2" text-anchor="middle" letter-spacing="0.12"><tspan>CFSE</tspan></text>
<text x="331.5" y="8.1" font-size="6.4" text-anchor="middle" letter-spacing="0" stroke-width="0.12"><tspan>0.1</tspan></text>
<text x="329.6" y="60.4" font-size="6.4" text-anchor="middle" letter-spacing="0" stroke-width="0.12"><tspan>43.6</tspan></text>
<text x="329.6" y="111.4" font-size="6.4" text-anchor="middle" letter-spacing="0" stroke-width="0.12"><tspan>19.3</tspan></text>
<text x="352.8" y="20.9" font-size="8.2" text-anchor="start" letter-spacing="0.12"><tspan>Rag2</tspan><tspan font-size="5.9" dy="-2.3" letter-spacing="0.6">-/-</tspan><tspan dy="2.3">KJ1-26</tspan><tspan font-size="5.9" dy="-2.3">+</tspan><tspan dy="2.3">T cells alone</tspan></text>
<text x="352.8" y="72.7" font-size="8.2" text-anchor="start" letter-spacing="0.12"><tspan>Rag2</tspan><tspan font-size="5.9" dy="-2.3" letter-spacing="0.6">-/-</tspan><tspan dy="2.3">KJ1-26</tspan><tspan font-size="5.9" dy="-2.3">+</tspan><tspan dy="2.3">T cells+OVA</tspan></text>
<text x="352.8" y="120.3" font-size="8.2" text-anchor="start" letter-spacing="0.12"><tspan>Rag2</tspan><tspan font-size="5.9" dy="-2.3" letter-spacing="0.6">-/-</tspan><tspan dy="2.3">KJ1-26</tspan><tspan font-size="5.9" dy="-2.3">+</tspan><tspan dy="2.3">T cells+OVA</tspan></text>
<text x="352.8" y="130.9" font-size="8.2" text-anchor="start" letter-spacing="0.12"><tspan>+KJ1-26</tspan><tspan font-size="5.9" dy="-2.3">+</tspan><tspan dy="2.3">CD25</tspan><tspan font-size="5.9" dy="-2.3">+</tspan><tspan dy="2.3">T cells</tspan></text>
<text x="284.2" y="188.6" font-size="13.5" text-anchor="start" letter-spacing="0"><tspan>E</tspan></text>
<text x="330.7" y="185.2" font-size="8.2" text-anchor="middle" letter-spacing="0.12"><tspan>None</tspan></text>
<text x="380.7" y="185.2" font-size="8.2" text-anchor="middle" letter-spacing="0.12"><tspan>OVA</tspan></text>
<text x="294.6" y="267.3" font-size="8.2" text-anchor="middle" letter-spacing="0.12" transform="rotate(-90 294.6 267.3)"><tspan>KJ1-26</tspan></text>
<text x="354.7" y="356.8" font-size="8.2" text-anchor="middle" letter-spacing="0.12"><tspan>CFSE</tspan></text>
<text x="329.3" y="202.6" font-size="6.4" text-anchor="middle" letter-spacing="0" stroke-width="0.12"><tspan>32.5</tspan></text>
<text x="380.1" y="202.6" font-size="6.4" text-anchor="middle" letter-spacing="0" stroke-width="0.12"><tspan>24.8</tspan></text>
<text x="329.3" y="254.1" font-size="6.4" text-anchor="middle" letter-spacing="0" stroke-width="0.12"><tspan>38.1</tspan></text>
<text x="380.1" y="254.1" font-size="6.4" text-anchor="middle" letter-spacing="0" stroke-width="0.12"><tspan>50.6</tspan></text>
<text x="329.3" y="305.4" font-size="6.4" text-anchor="middle" letter-spacing="0" stroke-width="0.12"><tspan>46.7</tspan></text>
<text x="380.1" y="305.4" font-size="6.4" text-anchor="middle" letter-spacing="0" stroke-width="0.12"><tspan>54.3</tspan></text>
<text x="405" y="213.5" font-size="8.2" text-anchor="start" letter-spacing="0.12"><tspan>Rag2</tspan><tspan font-size="5.9" dy="-2.3" letter-spacing="0.6">-/-</tspan><tspan dy="2.3">KJ1-26</tspan><tspan font-size="5.9" dy="-2.3">+</tspan><tspan dy="2.3">T cells+OVA</tspan></text>
<text x="405" y="223.7" font-size="8.2" text-anchor="start" letter-spacing="0.12"><tspan>+CD4</tspan><tspan font-size="5.9" dy="-2.3">+</tspan><tspan dy="2.3">CD25</tspan><tspan font-size="5.9" dy="-2.3">+</tspan><tspan dy="2.3">T cells (</tspan><tspan>WT</tspan><tspan>)</tspan></text>
<text x="405" y="264.8" font-size="8.2" text-anchor="start" letter-spacing="0.12"><tspan>Rag2</tspan><tspan font-size="5.9" dy="-2.3" letter-spacing="0.6">-/-</tspan><tspan dy="2.3">KJ1-26</tspan><tspan font-size="5.9" dy="-2.3">+</tspan><tspan dy="2.3">T cells+OVA</tspan></text>
<text x="405" y="275" font-size="8.2" text-anchor="start" letter-spacing="0.12"><tspan>+CD4</tspan><tspan font-size="5.9" dy="-2.3">+</tspan><tspan dy="2.3">CD25</tspan><tspan font-size="5.9" dy="-2.3">+</tspan><tspan dy="2.3">T cells (</tspan><tspan font-style="italic">B7h1</tspan><tspan font-size="5.9" dy="-2.3" letter-spacing="0.6">-/-</tspan><tspan dy="2.3">)</tspan></text>
<text x="405" y="316.2" font-size="8.2" text-anchor="start" letter-spacing="0.12"><tspan>Rag2</tspan><tspan font-size="5.9" dy="-2.3" letter-spacing="0.6">-/-</tspan><tspan dy="2.3">KJ1-26</tspan><tspan font-size="5.9" dy="-2.3">+</tspan><tspan dy="2.3">T cells+OVA</tspan></text>
<text x="405" y="326.4" font-size="8.2" text-anchor="start" letter-spacing="0.12"><tspan>+CD4</tspan><tspan font-size="5.9" dy="-2.3">+</tspan><tspan dy="2.3">CD25</tspan><tspan font-size="5.9" dy="-2.3">+</tspan><tspan dy="2.3">T cells (</tspan><tspan font-style="italic">B7dc</tspan><tspan font-size="5.9" dy="-2.3" letter-spacing="0.6">-/-</tspan><tspan dy="2.3">)</tspan></text>
<text x="285.4" y="385.8" font-size="13.5" text-anchor="start" letter-spacing="0"><tspan>F</tspan></text>
<text x="317.8" y="514.7" font-size="8" text-anchor="end" letter-spacing="0"><tspan>0</tspan></text>
<text x="317.8" y="499.85" font-size="8" text-anchor="end" letter-spacing="0"><tspan>10</tspan></text>
<text x="317.8" y="485" font-size="8" text-anchor="end" letter-spacing="0"><tspan>20</tspan></text>
<text x="317.8" y="470.15" font-size="8" text-anchor="end" letter-spacing="0"><tspan>30</tspan></text>
<text x="317.8" y="455.3" font-size="8" text-anchor="end" letter-spacing="0"><tspan>40</tspan></text>
<text x="317.8" y="440.45" font-size="8" text-anchor="end" letter-spacing="0"><tspan>50</tspan></text>
<text x="317.8" y="425.6" font-size="8" text-anchor="end" letter-spacing="0"><tspan>60</tspan></text>
<text x="317.8" y="410.75" font-size="8" text-anchor="end" letter-spacing="0"><tspan>70</tspan></text>
<text x="317.8" y="395.9" font-size="8" text-anchor="end" letter-spacing="0"><tspan>80</tspan></text>
<text x="376.3" y="417.4" font-size="8.2" text-anchor="start" letter-spacing="0.12"><tspan>None</tspan></text>
<text x="376.3" y="427.4" font-size="8.2" text-anchor="start" letter-spacing="0.12"><tspan>OVA</tspan></text>
<text x="299" y="452.6" font-size="8.45" text-anchor="middle" letter-spacing="0.1" transform="rotate(-90 299 452.6)"><tspan>Diving Rag2</tspan><tspan font-size="6.42" dy="-2.37" letter-spacing="0.6">-/-</tspan><tspan dy="2.37">J1-26</tspan><tspan font-size="6.42" dy="-2.37">+</tspan><tspan dy="2.37">T cells (%)</tspan></text>
<text x="335.5" y="521" font-size="8.4" text-anchor="end" letter-spacing="0.12" transform="rotate(-39 335.5 521)"><tspan>None</tspan></text>
<text x="358" y="521" font-size="8.4" text-anchor="end" letter-spacing="0.12" transform="rotate(-39 358 521)"><tspan>OVA</tspan></text>
<text x="379.5" y="521" font-size="8.4" text-anchor="end" letter-spacing="0.12" transform="rotate(-39 379.5 521)"><tspan>OVA+KJ1-26</tspan><tspan font-size="6.05" dy="-2.35">+</tspan><tspan dy="2.35">CD25</tspan><tspan font-size="6.05" dy="-2.35">+</tspan><tspan dy="2.35">T cells</tspan></text>
<text x="401" y="521" font-size="8.4" text-anchor="end" letter-spacing="0.12" transform="rotate(-39 401 521)"><tspan>OVA+CD4</tspan><tspan font-size="6.05" dy="-2.35">+</tspan><tspan dy="2.35">CD25</tspan><tspan font-size="6.05" dy="-2.35">+</tspan><tspan dy="2.35">T cells (WT)</tspan></text>
<text x="422" y="521" font-size="8.4" text-anchor="end" letter-spacing="0.12" transform="rotate(-39 422 521)"><tspan>OVA+CD4</tspan><tspan font-size="6.05" dy="-2.35">+</tspan><tspan dy="2.35">CD25</tspan><tspan font-size="6.05" dy="-2.35">+</tspan><tspan dy="2.35">T cells (</tspan><tspan>B7h1</tspan><tspan font-size="6.05" dy="-2.35" letter-spacing="0.6">-/-</tspan><tspan dy="2.35">)</tspan></text>
<text x="443" y="521" font-size="8.4" text-anchor="end" letter-spacing="0.12" transform="rotate(-39 443 521)"><tspan>OVA+CD4</tspan><tspan font-size="6.05" dy="-2.35">+</tspan><tspan dy="2.35">CD25</tspan><tspan font-size="6.05" dy="-2.35">+</tspan><tspan dy="2.35">T cells (</tspan><tspan>B7dc</tspan><tspan font-size="6.05" dy="-2.35" letter-spacing="0.6">-/-</tspan><tspan dy="2.35">)</tspan></text>
</g>
</svg>
</body></html>
